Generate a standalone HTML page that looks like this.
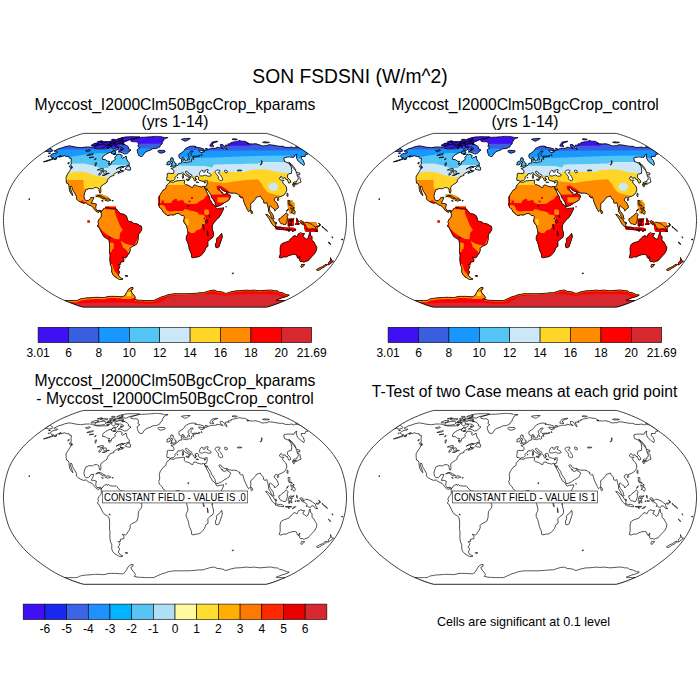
<!DOCTYPE html><html><head><meta charset="utf-8"><title>SON FSDSNI</title><style>html,body{margin:0;padding:0;background:#fff}svg{display:block}text{font-family:"Liberation Sans",sans-serif;fill:#000}</style></head><body>
<svg width="700" height="700" viewBox="0 0 700 700">
<rect width="700" height="700" fill="#fff"/>
<defs>
<path id="frame" d="M91.30 86.97 L94.48 86.09 L98.16 84.89 L102.23 83.42 L106.58 81.70 L111.10 79.78 L115.49 77.72 L119.53 75.57 L123.28 73.36 L126.86 71.08 L130.33 68.73 L133.71 66.33 L137.00 63.89 L140.18 61.40 L143.24 58.87 L146.16 56.31 L148.89 53.71 L151.39 51.09 L153.74 48.45 L156.00 45.79 L158.10 43.12 L160.00 40.44 L161.72 37.74 L163.29 35.05 L164.69 32.35 L165.90 29.66 L166.92 26.96 L167.76 24.26 L168.50 21.57 L169.20 18.87 L169.83 16.18 L170.35 13.48 L170.76 10.78 L171.08 8.09 L171.31 5.39 L171.47 2.70 L171.55 0.00 L171.47 -2.70 L171.31 -5.39 L171.08 -8.09 L170.76 -10.78 L170.35 -13.48 L169.83 -16.18 L169.20 -18.87 L168.50 -21.57 L167.76 -24.26 L166.92 -26.96 L165.90 -29.66 L164.69 -32.35 L163.29 -35.05 L161.72 -37.74 L160.00 -40.44 L158.10 -43.12 L156.00 -45.79 L153.74 -48.45 L151.39 -51.09 L148.89 -53.71 L146.16 -56.31 L143.24 -58.87 L140.18 -61.40 L137.00 -63.89 L133.71 -66.33 L130.33 -68.73 L126.86 -71.08 L123.28 -73.36 L119.53 -75.57 L115.49 -77.72 L111.10 -79.78 L106.58 -81.70 L102.23 -83.42 L98.16 -84.89 L94.48 -86.09 L91.30 -86.97 L-91.30 -86.97 L-94.48 -86.09 L-98.16 -84.89 L-102.23 -83.42 L-106.58 -81.70 L-111.10 -79.78 L-115.49 -77.72 L-119.53 -75.57 L-123.28 -73.36 L-126.86 -71.08 L-130.33 -68.73 L-133.71 -66.33 L-137.00 -63.89 L-140.18 -61.40 L-143.24 -58.87 L-146.16 -56.31 L-148.89 -53.71 L-151.39 -51.09 L-153.74 -48.45 L-156.00 -45.79 L-158.10 -43.12 L-160.00 -40.44 L-161.72 -37.74 L-163.29 -35.05 L-164.69 -32.35 L-165.90 -29.66 L-166.92 -26.96 L-167.76 -24.26 L-168.50 -21.57 L-169.20 -18.87 L-169.83 -16.18 L-170.35 -13.48 L-170.76 -10.78 L-171.08 -8.09 L-171.31 -5.39 L-171.47 -2.70 L-171.55 0.00 L-171.47 2.70 L-171.31 5.39 L-171.08 8.09 L-170.76 10.78 L-170.35 13.48 L-169.83 16.18 L-169.20 18.87 L-168.50 21.57 L-167.76 24.26 L-166.92 26.96 L-165.90 29.66 L-164.69 32.35 L-163.29 35.05 L-161.72 37.74 L-160.00 40.44 L-158.10 43.12 L-156.00 45.79 L-153.74 48.45 L-151.39 51.09 L-148.89 53.71 L-146.16 56.31 L-143.24 58.87 L-140.18 61.40 L-137.00 63.89 L-133.71 66.33 L-130.33 68.73 L-126.86 71.08 L-123.28 73.36 L-119.53 75.57 L-115.49 77.72 L-111.10 79.78 L-106.58 81.70 L-102.23 83.42 L-98.16 84.89 L-94.48 86.09 L-91.30 86.97Z"/>
<path id="land" d="M-120.9 -69.3 L-115.9 -71.8 L-112.9 -72.5 L-110.2 -73.6 L-107.9 -74.1 L-105.5 -74.5 L-104.3 -74.3 L-103.1 -74.1 L-102.0 -73.9 L-101.0 -73.7 L-99.9 -73.4 L-98.5 -73.2 L-97.0 -73.0 L-95.8 -72.9 L-94.5 -72.8 L-93.2 -72.7 L-91.1 -73.1 L-88.9 -73.4 L-87.3 -73.4 L-85.6 -73.4 L-84.3 -73.3 L-83.1 -73.2 L-82.1 -72.8 L-81.1 -72.4 L-80.1 -72.0 L-78.7 -71.7 L-77.3 -71.4 L-75.4 -71.4 L-73.6 -71.5 L-71.8 -71.5 L-70.1 -71.5 L-68.6 -71.6 L-67.1 -71.7 L-63.0 -75.0 L-63.4 -72.9 L-62.6 -72.2 L-61.7 -71.5 L-58.4 -73.2 L-56.5 -72.9 L-56.8 -71.5 L-58.4 -70.1 L-59.9 -70.1 L-61.4 -70.0 L-63.3 -68.3 L-65.8 -67.8 L-69.4 -65.8 L-71.9 -63.9 L-72.4 -62.6 L-72.4 -60.9 L-69.7 -60.7 L-68.6 -59.9 L-67.5 -59.2 L-65.4 -59.0 L-66.5 -56.8 L-66.0 -55.1 L-64.6 -55.3 L-63.7 -56.8 L-63.4 -58.6 L-60.8 -59.9 L-59.6 -61.4 L-60.3 -62.9 L-58.7 -64.4 L-58.1 -66.1 L-56.6 -66.1 L-55.1 -66.1 L-53.9 -65.5 L-52.8 -64.9 L-53.4 -62.9 L-52.6 -62.2 L-50.1 -63.4 L-48.9 -64.3 L-48.3 -61.4 L-47.5 -59.4 L-46.1 -57.8 L-45.5 -56.3 L-46.6 -55.3 L-49.6 -53.9 L-51.6 -53.9 L-53.7 -53.9 L-55.7 -53.0 L-58.9 -51.1 L-56.7 -52.5 L-53.7 -52.7 L-54.1 -51.6 L-54.8 -50.6 L-54.3 -49.5 L-51.9 -49.2 L-50.8 -50.0 L-52.0 -48.8 L-54.4 -48.0 L-56.9 -46.9 L-56.5 -47.9 L-54.9 -49.0 L-57.2 -48.5 L-59.3 -47.4 L-60.9 -46.3 L-61.4 -45.8 L-60.9 -44.9 L-62.8 -44.4 L-64.8 -43.8 L-65.2 -42.6 L-66.8 -41.5 L-67.7 -39.9 L-67.9 -38.3 L-69.3 -37.2 L-71.5 -35.9 L-73.7 -34.3 L-74.4 -32.4 L-74.0 -29.7 L-74.3 -27.5 L-75.1 -27.2 L-76.0 -29.7 L-76.0 -31.3 L-76.9 -32.4 L-78.6 -32.7 L-80.9 -32.7 L-82.1 -31.5 L-83.4 -31.6 L-86.1 -31.8 L-89.3 -30.2 L-90.3 -27.5 L-91.1 -24.3 L-90.4 -21.0 L-88.7 -19.6 L-86.3 -20.1 L-84.7 -21.6 L-84.4 -22.6 L-81.2 -23.2 L-82.0 -20.5 L-82.9 -18.9 L-83.7 -17.1 L-81.1 -17.0 L-78.6 -16.2 L-79.2 -13.5 L-79.2 -11.8 L-78.1 -9.9 L-75.9 -9.9 L-75.0 -10.2 L-73.6 -9.3 L-74.0 -7.9 L-75.5 -9.5 L-76.3 -7.9 L-78.7 -8.8 L-80.6 -10.8 L-81.3 -12.1 L-82.8 -14.0 L-85.0 -14.9 L-87.1 -15.9 L-89.0 -17.5 L-91.4 -17.0 L-94.1 -18.1 L-96.7 -19.6 L-98.8 -21.6 L-98.4 -23.7 L-99.8 -26.4 L-101.2 -28.6 L-102.8 -31.3 L-103.0 -33.6 L-104.4 -34.2 L-104.8 -32.4 L-103.7 -29.7 L-102.6 -26.4 L-102.0 -24.8 L-102.6 -25.0 L-104.1 -27.0 L-105.4 -29.4 L-105.9 -32.4 L-106.1 -35.0 L-106.9 -36.7 L-108.5 -37.3 L-108.8 -39.7 L-108.8 -41.5 L-109.0 -43.4 L-107.4 -46.3 L-105.1 -49.7 L-104.3 -51.9 L-102.4 -52.7 L-103.2 -54.0 L-104.3 -55.3 L-103.5 -57.3 L-104.1 -58.6 L-103.7 -60.4 L-103.7 -62.1 L-105.5 -62.2 L-106.0 -63.7 L-107.4 -63.8 L-108.8 -63.9 L-110.3 -64.7 L-113.0 -63.9 L-116.1 -63.2 L-113.8 -64.9 L-117.4 -63.4 L-120.2 -61.9 L-123.4 -60.7 L-126.6 -59.6 L-129.9 -58.7 L-131.6 -58.5 L-128.1 -59.7 L-124.4 -60.9 L-121.3 -62.6 L-123.1 -62.7 L-123.9 -63.4 L-124.6 -64.4 L-123.6 -65.8 L-121.0 -67.0 L-118.4 -67.3 L-117.2 -68.3 L-119.4 -68.3 L-120.3 -68.9Z M-44.5 -80.3 L-42.4 -81.0 L-40.3 -81.7 L-38.7 -82.1 L-37.1 -82.6 L-35.6 -83.0 L-34.4 -83.0 L-33.2 -83.1 L-32.0 -83.1 L-30.9 -83.2 L-29.7 -83.2 L-28.5 -83.3 L-27.2 -83.4 L-25.9 -83.5 L-24.6 -83.6 L-23.3 -83.7 L-22.1 -83.8 L-20.8 -83.9 L-19.6 -84.0 L-18.5 -84.0 L-17.4 -83.9 L-16.3 -83.9 L-15.2 -83.8 L-14.1 -83.7 L-12.9 -83.4 L-11.6 -83.1 L-10.4 -82.8 L-9.2 -82.8 L-8.1 -82.8 L-6.9 -82.8 L-8.2 -82.3 L-9.4 -81.8 L-10.7 -81.3 L-11.8 -79.4 L-12.8 -77.7 L-12.8 -76.4 L-14.7 -75.1 L-15.0 -73.6 L-16.6 -72.8 L-18.1 -72.0 L-19.5 -71.8 L-21.0 -71.7 L-22.4 -71.5 L-25.0 -70.0 L-27.3 -69.3 L-29.5 -68.3 L-31.2 -66.3 L-32.7 -64.1 L-33.9 -63.8 L-36.2 -64.8 L-37.0 -66.8 L-37.6 -68.7 L-37.9 -70.6 L-35.2 -72.7 L-37.1 -73.8 L-36.5 -75.6 L-36.8 -77.3 L-37.9 -78.6 L-39.2 -78.6 L-40.4 -78.6 L-41.7 -78.6 L-42.8 -78.8 L-43.9 -79.0 L-44.2 -80.0Z M-73.6 -9.3 L-72.1 -10.2 L-71.6 -11.5 L-70.6 -12.0 L-68.2 -13.2 L-67.8 -11.9 L-66.3 -12.9 L-64.9 -11.6 L-62.6 -11.4 L-60.7 -11.3 L-58.8 -11.5 L-57.9 -10.6 L-57.0 -9.2 L-55.1 -7.5 L-54.2 -6.5 L-51.4 -6.3 L-49.5 -5.2 L-48.6 -4.3 L-47.6 -1.9 L-47.7 0.0 L-45.7 1.1 L-42.9 1.6 L-41.9 2.9 L-39.5 3.1 L-37.1 3.8 L-35.2 5.2 L-33.5 5.9 L-33.1 8.1 L-33.5 10.2 L-35.1 12.4 L-36.4 14.0 L-36.8 16.7 L-36.8 19.2 L-37.4 21.6 L-38.2 23.7 L-40.0 24.8 L-41.8 25.7 L-43.6 26.6 L-44.9 28.0 L-44.8 30.5 L-46.1 33.4 L-47.4 34.8 L-48.3 36.7 L-49.4 37.6 L-51.3 37.3 L-52.7 36.7 L-51.1 39.0 L-51.1 41.2 L-52.9 41.6 L-54.7 42.0 L-54.5 44.0 L-56.8 44.2 L-55.1 46.0 L-55.8 48.2 L-57.2 49.7 L-55.3 51.1 L-56.0 53.2 L-56.7 54.8 L-55.6 56.2 L-55.3 57.1 L-52.0 58.6 L-53.2 59.2 L-55.6 59.1 L-57.8 57.8 L-59.9 56.6 L-62.1 54.2 L-63.3 51.6 L-63.2 49.5 L-63.3 46.9 L-64.5 44.7 L-64.9 42.0 L-65.2 40.1 L-65.1 37.7 L-65.0 34.5 L-65.6 31.3 L-65.3 27.5 L-65.5 23.7 L-66.0 20.0 L-67.7 18.5 L-70.7 16.7 L-72.1 14.9 L-73.4 12.4 L-75.0 9.2 L-76.1 7.0 L-77.3 6.3 L-77.3 4.6 L-76.2 3.6 L-77.0 2.4 L-77.0 1.1 L-76.2 -0.5 L-75.3 -1.6 L-74.3 -2.7 L-73.6 -4.3 L-73.7 -6.5 L-74.0 -7.9Z M-5.2 -38.6 L-1.8 -38.0 L0.9 -39.4 L2.7 -39.5 L4.5 -39.7 L6.2 -39.9 L8.0 -40.1 L9.3 -40.1 L9.8 -39.8 L9.4 -38.3 L9.2 -36.9 L10.4 -35.8 L11.8 -35.5 L13.9 -34.8 L16.0 -33.3 L17.8 -32.8 L18.2 -34.0 L19.0 -35.4 L20.9 -35.2 L22.7 -34.2 L24.6 -33.8 L26.5 -33.3 L28.2 -34.0 L29.4 -33.6 L29.7 -32.4 L30.9 -30.0 L33.0 -25.9 L34.5 -23.2 L35.0 -20.5 L36.2 -19.4 L37.2 -16.7 L38.9 -15.6 L40.7 -13.7 L41.0 -12.4 L42.2 -11.3 L44.5 -12.1 L46.4 -12.2 L48.5 -12.7 L48.6 -11.3 L47.3 -8.6 L45.7 -5.4 L43.8 -2.7 L41.9 -1.1 L40.0 1.1 L38.6 2.7 L37.6 4.9 L36.9 7.0 L37.5 8.6 L37.8 10.8 L38.4 11.5 L38.5 15.1 L37.7 17.3 L34.8 19.2 L32.8 21.4 L33.0 23.7 L33.0 25.9 L30.6 27.5 L30.3 29.1 L29.4 31.3 L27.8 33.2 L25.8 35.3 L23.5 36.5 L20.7 36.8 L18.0 37.5 L16.6 36.9 L16.5 34.5 L15.6 31.8 L14.3 29.1 L13.9 27.0 L13.5 24.8 L12.6 22.1 L11.1 18.9 L11.3 16.2 L13.0 12.9 L12.6 10.2 L11.7 6.5 L11.2 4.9 L9.1 2.4 L8.6 0.5 L9.1 -1.6 L9.2 -3.8 L8.1 -5.0 L6.7 -4.7 L5.2 -5.9 L4.1 -6.8 L1.9 -6.8 L0.0 -6.0 L-1.9 -5.2 L-3.8 -5.6 L-7.1 -4.7 L-8.6 -5.6 L-10.7 -7.3 L-12.3 -9.2 L-12.8 -10.6 L-14.2 -11.9 L-15.8 -13.4 L-15.8 -14.9 L-16.5 -15.9 L-15.5 -17.5 L-15.3 -20.5 L-15.9 -22.6 L-14.9 -25.6 L-13.7 -27.5 L-12.0 -30.0 L-9.2 -31.8 L-8.8 -34.0 L-7.7 -35.9 L-6.1 -36.9Z M-4.9 -38.8 L-5.8 -39.9 L-8.0 -39.9 L-8.3 -41.7 L-7.7 -44.2 L-7.9 -46.4 L-6.9 -47.1 L-4.3 -46.9 L-1.7 -46.8 L-1.1 -47.9 L-1.0 -49.5 L-2.1 -50.9 L-3.9 -51.6 L-3.8 -52.2 L-1.4 -52.4 L-1.2 -53.4 L0.2 -53.2 L1.3 -54.5 L2.9 -55.2 L3.7 -56.3 L4.0 -57.1 L5.6 -57.3 L7.0 -57.6 L6.6 -58.9 L6.4 -60.9 L8.2 -61.6 L8.3 -59.9 L7.8 -58.9 L8.8 -57.8 L10.0 -58.3 L11.4 -57.7 L13.2 -58.4 L14.8 -58.6 L15.8 -58.3 L16.7 -59.1 L16.4 -60.9 L17.1 -61.5 L19.0 -61.1 L18.1 -62.4 L18.0 -63.1 L20.6 -63.4 L22.9 -63.8 L21.6 -64.4 L19.0 -64.1 L17.1 -63.9 L16.1 -64.9 L15.9 -66.8 L17.8 -68.5 L18.2 -69.2 L15.8 -69.4 L15.5 -68.3 L13.3 -66.5 L13.0 -64.9 L14.3 -63.9 L12.8 -61.9 L12.8 -60.4 L11.3 -59.4 L10.3 -59.3 L9.8 -60.2 L8.7 -62.4 L8.0 -63.2 L6.6 -62.1 L5.4 -61.9 L4.2 -62.7 L3.8 -64.9 L4.1 -66.0 L6.3 -67.3 L8.0 -68.5 L9.3 -70.0 L10.2 -71.5 L11.8 -72.5 L13.4 -73.4 L15.6 -74.1 L17.6 -74.3 L19.3 -74.3 L21.2 -73.6 L19.9 -73.2 L21.3 -73.0 L22.8 -72.8 L24.9 -72.6 L26.8 -72.0 L28.8 -71.4 L29.2 -70.1 L27.2 -69.8 L25.7 -70.1 L24.2 -70.3 L23.5 -70.1 L25.2 -68.7 L25.5 -68.1 L27.5 -67.7 L27.6 -68.5 L29.4 -68.4 L28.7 -69.5 L29.9 -70.1 L31.6 -70.1 L30.3 -72.0 L32.4 -71.7 L32.7 -70.4 L33.8 -71.3 L35.3 -71.7 L36.9 -72.2 L38.3 -72.1 L39.7 -72.1 L41.7 -72.3 L41.9 -73.2 L44.5 -72.7 L46.5 -72.3 L48.2 -71.8 L45.9 -73.4 L45.3 -74.7 L45.5 -76.0 L47.6 -75.8 L49.2 -74.3 L50.2 -72.0 L52.1 -70.6 L51.6 -72.0 L50.1 -75.1 L52.0 -75.3 L54.1 -75.1 L52.8 -76.4 L54.4 -76.6 L56.1 -76.7 L55.8 -77.7 L57.0 -78.0 L58.2 -78.3 L59.4 -78.6 L60.5 -78.7 L61.6 -78.8 L62.7 -79.0 L63.4 -79.5 L64.0 -79.9 L66.8 -79.2 L68.5 -79.1 L70.2 -79.0 L73.9 -76.9 L71.8 -76.7 L73.2 -76.6 L74.6 -76.6 L75.9 -76.5 L77.3 -76.4 L78.6 -76.5 L79.8 -76.6 L81.0 -76.6 L84.3 -75.6 L87.6 -74.3 L89.4 -74.7 L90.8 -74.7 L92.2 -74.6 L93.0 -75.6 L94.4 -75.5 L95.8 -75.5 L97.2 -75.4 L99.0 -75.0 L100.9 -74.7 L103.7 -74.2 L105.1 -74.1 L106.5 -74.1 L107.9 -74.1 L110.1 -73.0 L111.9 -73.0 L113.7 -72.9 L115.1 -73.1 L116.4 -73.4 L118.5 -72.5 L119.7 -72.8 L120.8 -73.2 L122.8 -72.8 L124.9 -72.4 L130.3 -68.7 L133.0 -66.3 L131.8 -66.1 L130.6 -65.8 L130.4 -64.9 L130.1 -63.9 L128.2 -63.9 L126.3 -63.9 L126.4 -61.9 L128.2 -59.9 L129.4 -56.8 L128.9 -54.8 L126.2 -56.8 L122.7 -59.9 L121.9 -61.7 L121.2 -64.4 L121.5 -65.4 L121.8 -66.3 L120.9 -65.8 L120.0 -65.4 L119.5 -64.2 L118.9 -63.1 L116.8 -63.2 L114.7 -63.4 L112.9 -63.3 L111.1 -63.2 L110.0 -62.8 L108.8 -62.4 L109.4 -58.9 L113.8 -57.1 L116.2 -53.7 L116.8 -50.0 L116.3 -46.9 L113.9 -46.5 L112.7 -45.8 L112.4 -43.1 L115.3 -39.9 L115.8 -38.0 L113.9 -37.2 L112.7 -39.6 L112.5 -40.8 L110.9 -41.0 L110.0 -42.7 L107.7 -42.0 L106.0 -44.1 L104.9 -42.3 L104.1 -41.8 L105.9 -40.2 L109.0 -40.1 L107.5 -38.6 L108.1 -37.0 L110.7 -34.5 L111.6 -32.4 L111.8 -30.2 L110.7 -27.5 L108.8 -25.3 L106.3 -24.0 L103.7 -23.1 L102.9 -21.9 L101.8 -23.3 L99.8 -22.1 L99.1 -20.3 L101.8 -17.3 L103.4 -14.0 L103.3 -12.4 L101.5 -11.2 L99.7 -9.4 L99.4 -11.1 L97.1 -12.9 L95.4 -14.5 L94.6 -14.2 L94.2 -11.3 L95.3 -9.0 L96.8 -7.3 L98.3 -4.9 L98.6 -2.7 L99.3 -1.5 L98.5 -1.5 L96.5 -3.0 L95.4 -5.9 L93.4 -9.0 L93.6 -11.3 L92.6 -14.6 L91.9 -17.8 L90.0 -17.0 L88.8 -17.5 L88.4 -20.2 L86.3 -22.6 L85.3 -24.4 L83.1 -23.5 L81.3 -23.0 L80.8 -21.6 L79.5 -20.5 L77.4 -17.9 L75.6 -16.7 L75.8 -14.2 L75.7 -11.1 L75.0 -10.0 L74.1 -9.0 L73.6 -8.7 L72.3 -10.8 L70.8 -14.0 L69.3 -17.3 L68.3 -20.5 L67.9 -22.6 L67.4 -22.9 L66.4 -22.4 L64.3 -24.0 L65.2 -24.8 L63.2 -25.6 L62.2 -26.7 L59.3 -27.3 L57.0 -27.2 L55.1 -27.4 L53.2 -27.7 L52.1 -29.1 L49.9 -28.8 L47.4 -30.1 L45.7 -32.4 L44.6 -32.7 L44.0 -31.8 L44.8 -30.2 L46.2 -28.8 L46.8 -27.4 L47.5 -28.0 L47.9 -26.4 L49.2 -26.1 L50.6 -26.2 L52.0 -28.3 L52.5 -26.4 L54.6 -25.5 L55.7 -24.2 L54.7 -22.0 L54.1 -20.5 L52.2 -19.1 L49.3 -17.6 L46.3 -15.4 L43.0 -14.0 L41.2 -13.7 L40.4 -16.0 L40.0 -17.9 L38.4 -20.5 L36.6 -23.0 L35.8 -25.6 L34.5 -27.5 L32.5 -30.2 L32.0 -31.8 L31.6 -30.2 L30.9 -30.5 L29.8 -32.4 L29.4 -33.6 L31.2 -33.8 L31.7 -35.0 L32.2 -37.2 L32.2 -38.8 L32.3 -39.6 L30.8 -39.7 L29.1 -38.9 L27.3 -39.1 L25.9 -39.6 L24.5 -39.9 L23.4 -41.5 L23.8 -42.6 L23.0 -43.1 L22.7 -44.0 L21.0 -44.0 L20.6 -43.3 L20.0 -43.5 L20.1 -42.4 L20.6 -41.2 L21.3 -40.8 L20.4 -40.4 L20.7 -39.4 L20.0 -39.4 L19.3 -39.8 L18.9 -40.8 L18.8 -41.4 L17.8 -42.7 L17.0 -43.7 L17.0 -44.9 L16.0 -45.8 L14.7 -46.5 L13.1 -47.7 L12.4 -48.7 L11.7 -49.1 L10.6 -48.8 L10.6 -47.7 L11.7 -46.9 L12.3 -45.7 L13.9 -45.2 L13.9 -44.7 L16.1 -43.4 L16.2 -43.0 L14.9 -43.5 L14.6 -42.9 L15.1 -42.0 L14.3 -40.9 L13.9 -41.2 L14.1 -42.0 L13.7 -43.2 L12.7 -43.9 L10.9 -44.7 L9.5 -45.8 L8.9 -46.9 L7.7 -47.7 L6.5 -47.2 L5.2 -46.4 L3.9 -46.8 L2.7 -46.3 L2.8 -45.3 L1.9 -44.5 L0.7 -44.0 L-0.2 -42.6 L0.2 -41.8 L-0.6 -40.7 L-1.8 -39.7 L-3.9 -39.6Z M-124.9 -72.4 L-124.1 -71.7 L-123.3 -71.1 L-122.6 -70.4 L-121.8 -69.7 L-125.2 -68.3 L-127.0 -68.5 L-128.2 -69.2 L-130.3 -68.7Z M135.1 11.5 L135.6 15.1 L137.1 16.2 L137.0 20.0 L139.0 21.6 L140.3 24.3 L141.9 27.0 L141.3 30.2 L139.5 33.4 L136.9 36.1 L133.9 39.4 L133.2 40.4 L130.8 41.0 L128.9 42.0 L128.0 41.2 L125.3 41.3 L124.5 39.9 L125.0 38.5 L123.7 38.3 L125.0 35.6 L123.5 37.7 L122.3 37.5 L122.0 36.1 L121.3 34.5 L119.3 34.0 L116.3 34.5 L113.2 35.6 L111.4 36.7 L108.2 36.7 L106.0 37.7 L104.1 37.0 L105.1 34.5 L105.2 32.4 L105.1 29.7 L105.1 27.5 L106.0 24.3 L106.8 23.5 L109.4 22.2 L111.4 21.6 L113.9 20.8 L115.0 18.9 L116.2 18.3 L117.9 16.2 L120.0 15.1 L121.2 16.2 L122.2 16.2 L123.0 14.0 L124.0 13.2 L125.5 12.4 L127.8 13.2 L129.7 13.2 L128.6 14.6 L127.8 16.2 L129.6 17.3 L131.1 18.9 L132.6 18.3 L133.8 15.6 L134.2 13.5Z M-110.2 80.2 L-109.0 80.2 L-107.7 80.2 L-106.5 80.2 L-105.3 80.2 L-104.1 80.2 L-102.8 80.2 L-101.6 80.2 L-100.4 80.2 L-99.2 80.2 L-97.9 80.2 L-97.4 79.9 L-96.8 79.5 L-96.1 79.2 L-95.5 78.9 L-94.8 78.6 L-93.8 78.4 L-92.8 78.2 L-91.8 78.1 L-90.8 77.9 L-89.8 77.7 L-88.7 77.6 L-87.5 77.5 L-86.3 77.5 L-85.2 77.4 L-84.0 77.3 L-82.8 77.2 L-81.7 77.1 L-80.5 77.0 L-79.3 77.0 L-78.1 76.9 L-76.7 77.0 L-75.3 77.0 L-73.9 77.1 L-72.5 77.2 L-71.1 77.3 L-70.1 77.0 L-69.1 76.8 L-68.1 76.5 L-67.0 76.3 L-66.0 76.0 L-64.7 76.0 L-63.3 76.0 L-62.0 76.0 L-60.7 76.0 L-59.4 76.0 L-58.0 76.1 L-56.6 76.2 L-55.2 76.3 L-53.8 76.4 L-52.4 76.4 L-51.3 75.8 L-50.1 75.1 L-49.4 73.8 L-48.5 72.5 L-47.5 70.6 L-46.3 68.7 L-45.2 68.0 L-44.1 67.3 L-42.0 67.1 L-42.0 68.7 L-43.1 69.4 L-44.2 70.1 L-43.0 72.5 L-40.8 75.1 L-39.4 77.3 L-40.1 78.1 L-40.8 79.0 L-38.9 79.4 L-37.0 79.8 L-35.7 79.9 L-34.5 79.9 L-33.2 80.0 L-31.9 80.1 L-30.6 80.2 L-29.4 80.2 L-28.2 80.2 L-26.9 80.2 L-25.7 80.2 L-24.5 80.2 L-23.0 80.2 L-21.4 80.2 L-20.1 79.6 L-18.8 79.0 L-17.4 78.3 L-16.0 77.7 L-14.6 77.1 L-13.1 76.4 L-11.5 76.0 L-10.0 75.6 L-8.4 74.9 L-6.8 74.3 L-5.4 74.1 L-4.1 73.9 L-2.7 73.7 L-1.4 73.5 L0.0 73.4 L1.4 73.4 L2.7 73.4 L4.1 73.4 L5.5 73.4 L6.8 73.4 L8.2 73.4 L9.6 73.4 L11.0 73.4 L12.3 73.4 L13.7 73.4 L15.1 73.3 L16.5 73.2 L17.9 73.1 L19.3 73.0 L20.7 72.9 L22.5 72.7 L24.3 72.5 L26.0 72.5 L27.7 72.5 L29.7 71.9 L31.6 71.3 L33.6 70.7 L35.6 70.1 L37.5 69.9 L39.4 69.7 L40.9 70.4 L42.3 71.1 L44.0 71.2 L45.7 71.4 L47.2 71.7 L48.8 72.0 L49.6 72.9 L51.7 72.9 L54.4 72.0 L56.1 71.5 L58.1 71.1 L60.2 70.6 L62.1 70.5 L63.9 70.4 L65.8 70.3 L67.7 70.1 L69.7 69.9 L71.6 69.7 L73.2 69.9 L74.8 70.1 L76.8 69.9 L78.8 69.7 L80.4 69.9 L81.9 70.1 L83.6 70.3 L85.2 70.4 L87.1 70.3 L89.1 70.1 L91.1 69.9 L93.1 69.7 L94.9 69.7 L96.7 69.7 L98.1 70.1 L99.4 70.4 L101.1 70.5 L102.8 70.6 L103.7 71.3 L104.5 72.0 L106.0 72.2 L107.4 72.5 L108.5 72.9 L109.6 73.4 L110.6 73.8 L111.7 74.3 L113.0 74.5 L114.3 74.7 L112.1 76.0 L109.3 76.9 L106.5 77.7 L101.2 79.8 L102.2 80.2 L103.6 80.2 L104.9 80.2 L106.2 80.2 L107.5 80.2 L108.9 80.2 L110.2 80.2 L106.6 81.7 L103.1 83.1 L99.7 84.3 L96.6 85.4 L93.8 86.3 L91.3 87.0 L90.3 87.0 L89.3 87.0 L88.3 87.0 L87.2 87.0 L86.2 87.0 L85.2 87.0 L84.2 87.0 L83.2 87.0 L82.2 87.0 L81.2 87.0 L80.1 87.0 L79.1 87.0 L78.1 87.0 L77.1 87.0 L76.1 87.0 L75.1 87.0 L74.1 87.0 L73.0 87.0 L72.0 87.0 L71.0 87.0 L70.0 87.0 L69.0 87.0 L68.0 87.0 L67.0 87.0 L65.9 87.0 L64.9 87.0 L63.9 87.0 L62.9 87.0 L61.9 87.0 L60.9 87.0 L59.9 87.0 L58.8 87.0 L57.8 87.0 L56.8 87.0 L55.8 87.0 L54.8 87.0 L53.8 87.0 L52.8 87.0 L51.7 87.0 L50.7 87.0 L49.7 87.0 L48.7 87.0 L47.7 87.0 L46.7 87.0 L45.6 87.0 L44.6 87.0 L43.6 87.0 L42.6 87.0 L41.6 87.0 L40.6 87.0 L39.6 87.0 L38.5 87.0 L37.5 87.0 L36.5 87.0 L35.5 87.0 L34.5 87.0 L33.5 87.0 L32.5 87.0 L31.4 87.0 L30.4 87.0 L29.4 87.0 L28.4 87.0 L27.4 87.0 L26.4 87.0 L25.4 87.0 L24.3 87.0 L23.3 87.0 L22.3 87.0 L21.3 87.0 L20.3 87.0 L19.3 87.0 L18.3 87.0 L17.2 87.0 L16.2 87.0 L15.2 87.0 L14.2 87.0 L13.2 87.0 L12.2 87.0 L11.2 87.0 L10.1 87.0 L9.1 87.0 L8.1 87.0 L7.1 87.0 L6.1 87.0 L5.1 87.0 L4.1 87.0 L3.0 87.0 L2.0 87.0 L1.0 87.0 L0.0 87.0 L-1.0 87.0 L-2.0 87.0 L-3.0 87.0 L-4.1 87.0 L-5.1 87.0 L-6.1 87.0 L-7.1 87.0 L-8.1 87.0 L-9.1 87.0 L-10.1 87.0 L-11.2 87.0 L-12.2 87.0 L-13.2 87.0 L-14.2 87.0 L-15.2 87.0 L-16.2 87.0 L-17.2 87.0 L-18.3 87.0 L-19.3 87.0 L-20.3 87.0 L-21.3 87.0 L-22.3 87.0 L-23.3 87.0 L-24.3 87.0 L-25.4 87.0 L-26.4 87.0 L-27.4 87.0 L-28.4 87.0 L-29.4 87.0 L-30.4 87.0 L-31.4 87.0 L-32.5 87.0 L-33.5 87.0 L-34.5 87.0 L-35.5 87.0 L-36.5 87.0 L-37.5 87.0 L-38.5 87.0 L-39.6 87.0 L-40.6 87.0 L-41.6 87.0 L-42.6 87.0 L-43.6 87.0 L-44.6 87.0 L-45.6 87.0 L-46.7 87.0 L-47.7 87.0 L-48.7 87.0 L-49.7 87.0 L-50.7 87.0 L-51.7 87.0 L-52.8 87.0 L-53.8 87.0 L-54.8 87.0 L-55.8 87.0 L-56.8 87.0 L-57.8 87.0 L-58.8 87.0 L-59.9 87.0 L-60.9 87.0 L-61.9 87.0 L-62.9 87.0 L-63.9 87.0 L-64.9 87.0 L-65.9 87.0 L-67.0 87.0 L-68.0 87.0 L-69.0 87.0 L-70.0 87.0 L-71.0 87.0 L-72.0 87.0 L-73.0 87.0 L-74.1 87.0 L-75.1 87.0 L-76.1 87.0 L-77.1 87.0 L-78.1 87.0 L-79.1 87.0 L-80.1 87.0 L-81.2 87.0 L-82.2 87.0 L-83.2 87.0 L-84.2 87.0 L-85.2 87.0 L-86.2 87.0 L-87.2 87.0 L-88.3 87.0 L-89.3 87.0 L-90.3 87.0 L-91.3 87.0 L-93.8 86.3 L-96.6 85.4 L-99.7 84.3 L-103.1 83.1 L-106.6 81.7Z M-52.3 -76.6 L-51.3 -76.2 L-50.3 -75.8 L-49.1 -75.2 L-47.9 -74.5 L-46.6 -73.4 L-46.6 -71.5 L-45.3 -71.0 L-44.0 -70.4 L-46.0 -68.7 L-48.0 -66.8 L-50.5 -66.3 L-52.2 -67.3 L-54.2 -68.3 L-56.8 -68.3 L-54.4 -69.7 L-51.4 -71.1 L-51.6 -72.0 L-53.0 -72.9 L-54.1 -73.4 L-55.5 -73.4 L-56.8 -73.4 L-58.7 -73.6 L-60.2 -74.3 L-59.4 -75.6 L-56.1 -76.7 L-54.2 -76.6Z M-78.7 -74.7 L-76.7 -75.3 L-74.7 -75.8 L-72.9 -76.0 L-71.1 -76.2 L-69.5 -75.7 L-69.0 -74.3 L-70.6 -72.9 L-73.6 -72.3 L-75.1 -72.2 L-76.5 -72.2 L-79.0 -72.1 L-80.3 -72.9 L-80.0 -73.8Z M-83.9 -75.1 L-80.3 -76.7 L-78.7 -76.9 L-77.2 -77.0 L-76.0 -76.4 L-78.9 -75.1 L-81.6 -74.5 L-83.4 -74.7Z M-56.6 -78.8 L-54.5 -79.3 L-52.5 -79.8 L-51.2 -79.6 L-50.0 -79.4 L-48.7 -79.2 L-46.1 -80.6 L-44.6 -81.0 L-43.0 -81.3 L-41.5 -81.7 L-40.0 -82.0 L-38.6 -82.3 L-36.9 -82.9 L-35.2 -83.4 L-36.3 -83.5 L-37.3 -83.6 L-38.4 -83.7 L-39.4 -83.7 L-40.6 -83.7 L-41.7 -83.7 L-42.8 -83.7 L-43.9 -83.7 L-45.1 -83.7 L-46.3 -83.6 L-47.6 -83.5 L-48.9 -83.4 L-50.1 -83.3 L-51.8 -82.9 L-53.4 -82.6 L-52.8 -82.1 L-52.1 -81.7 L-52.2 -80.6 L-54.9 -79.8Z M-61.1 -78.1 L-60.2 -77.8 L-59.3 -77.5 L-57.8 -77.4 L-56.4 -77.3 L-54.9 -77.3 L-53.2 -77.4 L-51.5 -77.5 L-51.8 -78.6 L-53.0 -78.6 L-54.2 -78.7 L-55.4 -78.8 L-56.8 -78.9 L-58.3 -79.0Z M-74.7 -78.0 L-73.6 -77.6 L-72.4 -77.3 L-70.9 -77.4 L-69.5 -77.6 L-68.0 -77.7 L-67.0 -78.6 L-68.2 -78.6 L-69.4 -78.7 L-70.6 -78.7 L-71.8 -78.8 L-73.0 -78.8Z M-58.3 -80.6 L-57.1 -80.5 L-56.0 -80.5 L-54.8 -80.4 L-51.9 -81.3 L-52.4 -82.4 L-54.3 -82.1 L-56.3 -81.7Z M-68.6 -74.7 L-66.9 -74.7 L-65.2 -74.7 L-63.5 -75.1 L-61.8 -75.6 L-59.4 -76.7 L-60.9 -76.8 L-62.5 -76.9 L-64.5 -76.4 L-66.6 -76.0Z M-64.0 -67.3 L-62.9 -66.7 L-61.8 -66.1 L-59.0 -67.6 L-59.8 -69.2 L-61.7 -69.5Z M-49.8 -51.3 L-47.3 -50.4 L-44.8 -50.2 L-44.3 -51.3 L-44.5 -53.0 L-46.1 -53.7 L-45.4 -55.3 L-47.1 -54.2 L-48.8 -52.4Z M-105.6 -54.4 L-103.6 -54.0 L-103.2 -52.1 L-104.3 -52.4 L-105.5 -53.7Z M-79.3 -23.5 L-77.3 -24.8 L-74.9 -24.9 L-72.3 -23.5 L-70.1 -22.3 L-69.4 -21.7 L-72.6 -21.5 L-72.9 -22.3 L-74.7 -23.4 L-76.4 -24.2 L-77.9 -23.8Z M-69.8 -19.8 L-68.2 -21.5 L-65.5 -21.4 L-64.2 -20.1 L-66.2 -19.6 L-67.4 -19.1 L-68.1 -19.7Z M-73.5 -19.7 L-71.7 -19.4 L-72.5 -19.2Z M-63.1 -19.8 L-61.7 -19.7 L-62.5 -19.4Z M-17.3 -69.2 L-15.7 -70.1 L-14.3 -70.0 L-12.9 -69.9 L-10.5 -69.9 L-9.8 -68.7 L-11.0 -68.0 L-13.6 -67.2 L-15.8 -67.6 L-16.4 -68.4Z M-4.4 -53.8 L-2.9 -54.1 L0.0 -54.5 L1.1 -55.0 L0.7 -55.4 L1.4 -56.5 L0.2 -56.8 L-0.2 -58.1 L-1.3 -59.2 L-1.8 -59.9 L-1.6 -61.5 L-2.7 -61.6 L-2.5 -62.5 L-3.9 -62.5 L-4.5 -61.2 L-4.3 -59.9 L-3.8 -58.8 L-2.6 -58.7 L-2.4 -57.2 L-3.6 -57.1 L-3.4 -56.1 L-4.2 -55.6 L-2.7 -55.2 L-3.7 -54.8Z M-8.2 -55.5 L-6.5 -55.5 L-5.1 -56.1 L-4.9 -57.3 L-4.5 -58.4 L-5.2 -59.1 L-6.5 -59.1 L-6.9 -58.2 L-8.0 -58.1 L-7.7 -57.0 L-8.4 -56.0Z M6.6 -81.3 L7.7 -81.4 L8.9 -81.6 L10.4 -81.7 L11.8 -81.9 L13.0 -81.9 L14.2 -81.9 L15.3 -81.8 L14.4 -81.2 L13.4 -80.6 L12.3 -80.0 L11.2 -79.4 L9.4 -79.2 L8.6 -80.0 L6.7 -80.7Z M34.8 -74.3 L35.2 -75.6 L36.1 -76.9 L36.9 -78.1 L38.3 -78.5 L39.6 -78.8 L41.2 -79.0 L42.8 -79.2 L41.9 -78.3 L40.5 -78.0 L39.1 -77.7 L37.9 -76.7 L37.3 -75.4 L39.0 -74.1 L36.7 -74.0Z M57.0 -81.1 L57.8 -81.4 L58.6 -81.7 L60.5 -81.4 L62.3 -81.2 L61.6 -80.3 L60.3 -80.5 L58.9 -80.6Z M87.5 -78.0 L88.6 -78.3 L89.7 -78.6 L91.3 -78.4 L92.9 -78.2 L94.5 -78.0 L93.6 -77.8 L92.7 -77.5 L91.1 -77.5 L89.6 -77.5Z M120.6 -74.3 L121.1 -74.7 L122.0 -74.2Z M113.7 -58.2 L116.3 -56.3 L118.7 -53.7 L120.7 -50.6 L120.8 -49.5 L119.0 -51.6 L117.0 -54.2 L115.1 -56.3Z M122.2 -44.7 L121.9 -46.5 L120.8 -48.9 L123.0 -47.6 L125.0 -47.2 L124.6 -45.5 L122.7 -45.7Z M123.3 -44.5 L125.0 -42.6 L125.3 -40.4 L126.1 -38.3 L124.9 -37.7 L123.3 -37.3 L122.4 -36.2 L120.3 -36.9 L118.2 -36.6 L117.9 -37.3 L119.2 -38.3 L121.8 -38.6 L121.9 -40.1 L123.3 -41.0 L123.1 -42.9 L122.5 -44.2Z M117.5 -36.1 L119.1 -36.1 L119.4 -34.0 L118.7 -33.6 L117.6 -35.4Z M119.6 -36.3 L121.0 -36.9 L121.3 -36.0 L120.3 -35.4Z M112.2 -27.2 L113.1 -26.7 L112.8 -23.7 L111.9 -24.8Z M101.9 -20.7 L103.3 -21.6 L104.0 -21.1 L103.0 -19.7Z M75.7 -10.5 L77.1 -9.2 L77.8 -7.5 L76.7 -6.5 L76.0 -7.3Z M113.1 -20.0 L114.7 -19.8 L114.9 -17.8 L114.7 -15.6 L117.0 -14.9 L117.3 -13.7 L115.8 -14.7 L114.1 -14.9 L113.4 -16.0 L113.3 -17.6Z M116.0 -7.5 L117.3 -9.3 L118.9 -10.4 L120.1 -9.2 L120.0 -7.0 L119.4 -6.1 L117.9 -7.0 L117.1 -8.1Z M115.5 -12.7 L116.9 -11.9 L118.0 -12.2 L118.8 -13.4 L118.8 -11.1 L117.6 -10.8 L116.8 -9.9 L116.2 -10.8Z M111.4 -9.2 L113.3 -11.6 L113.2 -10.8 L111.9 -9.0Z M90.7 -6.0 L92.8 -5.6 L95.2 -3.2 L98.2 -0.5 L99.6 2.2 L100.9 3.6 L100.7 6.3 L99.4 6.1 L97.4 4.3 L95.8 1.6 L94.1 -1.6 L92.4 -3.8Z M100.1 7.3 L101.5 6.5 L103.2 7.1 L105.4 6.9 L107.2 7.4 L108.8 8.4 L108.6 9.4 L105.4 9.0 L102.6 8.4Z M103.9 -1.6 L105.3 -1.9 L106.2 -3.0 L108.1 -4.6 L109.9 -5.9 L111.2 -7.5 L113.2 -5.6 L112.2 -3.8 L112.4 -1.3 L112.0 0.9 L110.6 4.1 L109.0 4.3 L107.6 3.5 L106.2 3.5 L104.8 1.6 L103.9 0.0Z M114.2 -0.9 L115.3 -1.4 L117.2 -1.1 L119.1 -1.7 L118.2 -0.4 L115.8 -0.5 L114.6 0.9 L115.8 1.0 L117.5 1.0 L116.0 2.2 L116.7 3.8 L117.1 5.4 L115.9 5.2 L115.3 3.0 L114.7 3.2 L114.6 5.9 L113.7 5.9 L113.8 3.8 L113.2 2.9 L113.9 0.5Z M124.8 0.9 L126.3 0.4 L127.7 0.9 L128.6 3.6 L130.5 1.9 L132.0 1.9 L134.3 2.8 L137.1 4.1 L138.7 5.7 L140.3 6.5 L140.5 8.1 L142.3 11.0 L142.7 11.4 L140.4 10.9 L138.7 8.8 L136.8 8.3 L135.7 9.9 L133.9 9.8 L132.5 8.7 L131.1 9.0 L132.0 7.3 L130.8 5.6 L129.0 4.7 L127.1 4.1 L126.5 3.0 L127.6 2.7 L125.9 2.4 L124.8 1.5Z M117.1 11.1 L118.7 9.7 L120.8 9.1 L120.1 10.0 L118.1 11.0Z M110.2 9.1 L113.0 9.0 L116.6 9.0 L116.6 9.5 L113.5 9.5 L110.8 9.7Z M121.5 -2.2 L122.4 -1.6 L122.0 0.0 L122.5 0.9 L121.7 0.3Z M121.9 3.2 L124.6 3.5 L123.8 3.9 L122.2 3.8Z M141.3 5.9 L143.2 5.7 L144.9 4.5 L144.6 5.7 L143.1 6.7 L141.7 6.7Z M46.7 12.9 L47.4 16.7 L46.8 18.3 L45.7 21.6 L44.9 24.0 L44.1 26.4 L42.1 27.5 L40.8 27.0 L40.4 23.7 L41.6 21.6 L41.4 18.9 L42.4 17.3 L44.3 16.2 L45.4 14.6Z M126.6 44.0 L127.9 44.3 L129.7 44.1 L127.9 46.3 L126.6 47.0 L125.8 46.6 L126.2 45.3Z M155.5 37.2 L156.1 38.8 L156.8 39.7 L157.1 40.8 L158.5 40.7 L156.5 42.4 L154.2 44.2 L152.5 44.7 L153.5 43.1 L153.2 42.4 L154.9 41.0 L155.6 39.4Z M151.3 43.7 L152.0 44.5 L148.9 46.9 L146.7 47.9 L144.8 49.5 L142.5 50.1 L141.4 49.5 L144.1 47.7 L147.3 46.3 L149.3 44.9Z M153.5 21.7 L154.7 22.6 L155.7 24.2 L154.9 23.7 L153.7 22.6Z M7.3 -44.2 L8.5 -44.2 L8.5 -42.3 L7.5 -42.0Z M7.5 -45.9 L8.2 -46.3 L8.3 -44.7 L7.7 -44.8Z M11.1 -41.0 L13.7 -41.2 L13.6 -39.6 L11.3 -40.5Z M21.2 -38.4 L23.5 -38.1 L23.4 -37.7 L21.2 -38.0Z M29.0 -37.7 L30.9 -38.4 L30.4 -37.6 L29.4 -37.4Z M-146.0 -21.8 L-145.1 -21.4 L-145.9 -20.5 L-146.1 -21.1Z M-49.9 55.3 L-47.5 55.2 L-47.6 56.0 L-49.2 56.0Z M50.5 -13.6 L51.6 -13.6 L51.0 -13.3Z M57.3 52.7 L58.7 52.8 L58.0 53.4 L57.1 53.3Z M166.7 18.9 L167.9 18.9 L167.5 19.6 L166.6 19.5Z M148.3 7.5 L151.0 9.2 L152.7 10.8 L152.2 11.0 L150.1 9.2Z M157.1 16.2 L157.6 16.7 L157.7 17.8 L157.3 17.3Z M-66.8 -76.4 L-64.4 -76.9 L-64.4 -75.6 L-66.1 -74.5 L-67.5 -75.1Z M-68.2 -72.9 L-66.0 -73.1 L-66.5 -72.1 L-68.1 -72.2Z M-65.2 -79.0 L-63.6 -79.0 L-62.0 -79.0 L-62.9 -77.7 L-64.1 -77.8 L-65.3 -77.9Z M-61.5 -78.1 L-59.7 -78.0 L-60.3 -77.5 L-61.8 -77.5Z M-77.7 -78.6 L-75.7 -79.1 L-73.7 -79.6 L-72.4 -79.2 L-75.3 -78.5 L-76.5 -78.5Z M-63.2 -81.0 L-61.7 -81.0 L-60.2 -81.0 L-59.4 -80.2 L-61.5 -79.9 L-62.5 -80.1 L-63.5 -80.3Z M-53.1 -76.4 L-51.0 -76.6 L-50.3 -75.8 L-52.5 -75.6Z M-54.4 -71.4 L-52.7 -71.4 L-53.0 -70.8 L-54.5 -70.7Z M-61.5 -66.6 L-59.2 -66.6 L-59.7 -65.8 L-61.5 -65.9Z M-66.2 -57.0 L-64.6 -57.0 L-65.1 -56.5 L-66.3 -56.6Z M-53.4 -53.6 L-51.3 -52.9 L-52.4 -52.9Z M-54.4 -50.2 L-52.5 -49.9 L-53.1 -49.5 L-54.3 -49.7Z M-120.5 -61.2 L-118.0 -61.9 L-119.3 -60.9 L-120.7 -60.7Z M-127.0 -64.2 L-125.6 -64.3 L-126.6 -63.7Z M-126.1 -67.3 L-124.4 -67.2 L-124.9 -66.8 L-126.3 -66.9Z M-106.7 -57.8 L-105.7 -57.8 L-106.5 -56.3 L-107.2 -56.6Z M37.3 6.3 L37.7 6.5 L37.5 7.0Z M100.5 1.8 L101.5 2.2 L101.6 3.2 L100.8 2.7Z M120.0 3.5 L121.1 3.6 L120.9 4.1 L120.1 4.0Z M112.9 10.1 L114.6 10.4 L114.3 11.0 L113.1 10.6Z M143.6 2.8 L145.2 3.9 L145.6 5.0 L144.9 4.3 L143.6 3.1Z M147.1 5.9 L148.3 6.9 L148.0 7.4 L147.2 6.7Z M14.1 -61.8 L14.8 -61.7 L14.5 -60.9 L14.1 -61.1Z M2.1 -42.7 L3.0 -42.9 L2.8 -42.4 L2.3 -42.4Z M20.5 -41.9 L21.7 -41.2 L21.5 -41.0 L20.4 -41.6Z"/>
<path id="water" d="M24.3 -45.8 L24.7 -47.4 L25.3 -48.7 L25.5 -49.3 L26.6 -50.1 L28.2 -49.7 L27.8 -49.3 L28.7 -47.9 L30.3 -48.8 L29.8 -49.9 L32.0 -50.8 L33.1 -50.7 L32.9 -49.5 L32.1 -48.1 L34.0 -47.1 L35.9 -45.9 L36.2 -44.8 L35.0 -44.2 L32.8 -44.2 L30.4 -45.3 L27.5 -44.4 L25.3 -44.4Z M40.0 -49.0 L41.5 -50.0 L43.1 -50.4 L44.9 -50.0 L44.8 -48.5 L43.7 -47.9 L43.1 -47.7 L44.5 -46.3 L45.6 -45.3 L46.4 -43.7 L47.5 -42.0 L47.6 -40.2 L46.4 -39.6 L44.5 -40.2 L43.4 -41.5 L43.4 -43.7 L42.1 -45.3 L40.9 -46.9 L40.1 -47.9Z M49.5 -50.0 L50.7 -50.2 L52.2 -49.5 L52.3 -47.9 L50.7 -47.4 L49.8 -48.5Z"/>
<path id="lakes" d="M85.0 -55.4 L86.4 -55.8 L87.1 -57.8 L86.9 -59.6 L86.3 -59.5 L86.6 -57.3 L85.7 -56.3Z M-77.7 -50.4 L-74.6 -51.6 L-71.9 -52.1 L-71.5 -50.6 L-73.2 -50.0 L-75.2 -50.4Z M-76.3 -45.3 L-75.0 -45.3 L-72.6 -49.0 L-71.9 -49.5 L-73.5 -49.3 L-75.5 -47.4Z M-71.8 -49.4 L-68.8 -49.5 L-68.5 -48.1 L-70.5 -46.5 L-71.1 -46.9 L-71.5 -47.9 L-71.1 -48.8Z M-72.6 -45.0 L-69.3 -45.8 L-68.2 -46.2 L-70.5 -44.9Z M-68.8 -46.6 L-66.2 -47.3 L-65.6 -47.0 L-66.9 -46.6Z M-79.8 -57.3 L-78.4 -57.6 L-79.1 -54.8 L-79.9 -54.2 L-79.9 -55.8Z M-89.5 -69.7 L-87.6 -70.1 L-85.7 -70.6 L-84.6 -70.0 L-87.2 -68.7 L-88.8 -69.0Z M-88.2 -64.9 L-84.9 -66.1 L-83.2 -66.4 L-81.5 -66.6 L-83.6 -65.4 L-86.3 -64.9Z M30.3 -0.3 L32.4 -0.3 L32.4 2.2 L31.2 3.0 L30.3 1.6Z M27.9 3.7 L28.4 4.9 L28.8 7.0 L29.3 9.2 L28.7 9.2 L27.8 5.9Z M32.3 10.4 L32.9 12.4 L33.2 15.4 L32.7 15.1 L32.4 12.4Z M-85.9 -62.6 L-82.7 -63.3 L-81.2 -63.2 L-83.8 -62.8Z M-79.7 -61.9 L-78.8 -61.9 L-80.0 -60.4 L-80.5 -60.6Z M62.4 -50.1 L64.2 -50.4 L66.9 -50.0 L66.6 -49.6 L63.7 -49.5 L62.8 -49.2Z M12.8 -14.7 L13.8 -14.7 L13.8 -13.8 L12.9 -13.8Z M23.1 -63.9 L23.7 -65.1 L24.7 -64.9 L24.7 -64.1Z M26.0 -64.9 L26.4 -66.1 L27.2 -65.4 L26.8 -64.8Z M-66.0 16.6 L-65.2 16.7 L-64.8 17.7 L-65.6 17.5Z M34.1 -4.9 L34.6 -4.7 L34.9 -2.8 L34.4 -2.9Z M29.0 -1.1 L29.9 -2.4 L29.7 -2.5 L28.8 -1.3Z"/>
<path id="fillland" d="M-120.9 -69.3 L-115.9 -71.8 L-112.9 -72.5 L-110.2 -73.6 L-107.9 -74.1 L-105.5 -74.5 L-104.3 -74.3 L-103.1 -74.1 L-102.0 -73.9 L-101.0 -73.7 L-99.9 -73.4 L-98.5 -73.2 L-97.0 -73.0 L-95.8 -72.9 L-94.5 -72.8 L-93.2 -72.7 L-91.1 -73.1 L-88.9 -73.4 L-87.3 -73.4 L-85.6 -73.4 L-84.3 -73.3 L-83.1 -73.2 L-82.1 -72.8 L-81.1 -72.4 L-80.1 -72.0 L-78.7 -71.7 L-77.3 -71.4 L-75.4 -71.4 L-73.6 -71.5 L-71.8 -71.5 L-70.1 -71.5 L-68.6 -71.6 L-67.1 -71.7 L-63.0 -75.0 L-63.4 -72.9 L-62.6 -72.2 L-61.7 -71.5 L-58.4 -73.2 L-56.5 -72.9 L-56.8 -71.5 L-58.4 -70.1 L-59.9 -70.1 L-61.4 -70.0 L-63.3 -68.3 L-65.8 -67.8 L-69.4 -65.8 L-71.9 -63.9 L-72.4 -62.6 L-72.4 -60.9 L-69.7 -60.7 L-68.6 -59.9 L-67.5 -59.2 L-65.4 -59.0 L-66.5 -56.8 L-66.0 -55.1 L-64.6 -55.3 L-63.7 -56.8 L-63.4 -58.6 L-60.8 -59.9 L-59.6 -61.4 L-60.3 -62.9 L-58.7 -64.4 L-58.1 -66.1 L-56.6 -66.1 L-55.1 -66.1 L-53.9 -65.5 L-52.8 -64.9 L-53.4 -62.9 L-52.6 -62.2 L-50.1 -63.4 L-48.9 -64.3 L-48.3 -61.4 L-47.5 -59.4 L-46.1 -57.8 L-45.5 -56.3 L-46.6 -55.3 L-49.6 -53.9 L-51.6 -53.9 L-53.7 -53.9 L-55.7 -53.0 L-58.9 -51.1 L-56.7 -52.5 L-53.7 -52.7 L-54.1 -51.6 L-54.8 -50.6 L-54.3 -49.5 L-51.9 -49.2 L-50.8 -50.0 L-52.0 -48.8 L-54.4 -48.0 L-56.9 -46.9 L-56.5 -47.9 L-54.9 -49.0 L-57.2 -48.5 L-59.3 -47.4 L-60.9 -46.3 L-61.4 -45.8 L-60.9 -44.9 L-62.8 -44.4 L-64.8 -43.8 L-65.2 -42.6 L-66.8 -41.5 L-67.7 -39.9 L-67.9 -38.3 L-69.3 -37.2 L-71.5 -35.9 L-73.7 -34.3 L-74.4 -32.4 L-74.0 -29.7 L-74.3 -27.5 L-75.1 -27.2 L-76.0 -29.7 L-76.0 -31.3 L-76.9 -32.4 L-78.6 -32.7 L-80.9 -32.7 L-82.1 -31.5 L-83.4 -31.6 L-86.1 -31.8 L-89.3 -30.2 L-90.3 -27.5 L-91.1 -24.3 L-90.4 -21.0 L-88.7 -19.6 L-86.3 -20.1 L-84.7 -21.6 L-84.4 -22.6 L-81.2 -23.2 L-82.0 -20.5 L-82.9 -18.9 L-83.7 -17.1 L-81.1 -17.0 L-78.6 -16.2 L-79.2 -13.5 L-79.2 -11.8 L-78.1 -9.9 L-75.9 -9.9 L-75.0 -10.2 L-73.6 -9.3 L-74.0 -7.9 L-75.5 -9.5 L-76.3 -7.9 L-78.7 -8.8 L-80.6 -10.8 L-81.3 -12.1 L-82.8 -14.0 L-85.0 -14.9 L-87.1 -15.9 L-89.0 -17.5 L-91.4 -17.0 L-94.1 -18.1 L-96.7 -19.6 L-98.8 -21.6 L-98.4 -23.7 L-99.8 -26.4 L-101.2 -28.6 L-102.8 -31.3 L-103.0 -33.6 L-104.4 -34.2 L-104.8 -32.4 L-103.7 -29.7 L-102.6 -26.4 L-102.0 -24.8 L-102.6 -25.0 L-104.1 -27.0 L-105.4 -29.4 L-105.9 -32.4 L-106.1 -35.0 L-106.9 -36.7 L-108.5 -37.3 L-108.8 -39.7 L-108.8 -41.5 L-109.0 -43.4 L-107.4 -46.3 L-105.1 -49.7 L-104.3 -51.9 L-102.4 -52.7 L-103.2 -54.0 L-104.3 -55.3 L-103.5 -57.3 L-104.1 -58.6 L-103.7 -60.4 L-103.7 -62.1 L-105.5 -62.2 L-106.0 -63.7 L-107.4 -63.8 L-108.8 -63.9 L-110.3 -64.7 L-113.0 -63.9 L-116.1 -63.2 L-113.8 -64.9 L-117.4 -63.4 L-120.2 -61.9 L-123.4 -60.7 L-126.6 -59.6 L-129.9 -58.7 L-131.6 -58.5 L-128.1 -59.7 L-124.4 -60.9 L-121.3 -62.6 L-123.1 -62.7 L-123.9 -63.4 L-124.6 -64.4 L-123.6 -65.8 L-121.0 -67.0 L-118.4 -67.3 L-117.2 -68.3 L-119.4 -68.3 L-120.3 -68.9Z M-44.5 -80.3 L-42.4 -81.0 L-40.3 -81.7 L-38.7 -82.1 L-37.1 -82.6 L-35.6 -83.0 L-34.4 -83.0 L-33.2 -83.1 L-32.0 -83.1 L-30.9 -83.2 L-29.7 -83.2 L-28.5 -83.3 L-27.2 -83.4 L-25.9 -83.5 L-24.6 -83.6 L-23.3 -83.7 L-22.1 -83.8 L-20.8 -83.9 L-19.6 -84.0 L-18.5 -84.0 L-17.4 -83.9 L-16.3 -83.9 L-15.2 -83.8 L-14.1 -83.7 L-12.9 -83.4 L-11.6 -83.1 L-10.4 -82.8 L-9.2 -82.8 L-8.1 -82.8 L-6.9 -82.8 L-8.2 -82.3 L-9.4 -81.8 L-10.7 -81.3 L-11.8 -79.4 L-12.8 -77.7 L-12.8 -76.4 L-14.7 -75.1 L-15.0 -73.6 L-16.6 -72.8 L-18.1 -72.0 L-19.5 -71.8 L-21.0 -71.7 L-22.4 -71.5 L-25.0 -70.0 L-27.3 -69.3 L-29.5 -68.3 L-31.2 -66.3 L-32.7 -64.1 L-33.9 -63.8 L-36.2 -64.8 L-37.0 -66.8 L-37.6 -68.7 L-37.9 -70.6 L-35.2 -72.7 L-37.1 -73.8 L-36.5 -75.6 L-36.8 -77.3 L-37.9 -78.6 L-39.2 -78.6 L-40.4 -78.6 L-41.7 -78.6 L-42.8 -78.8 L-43.9 -79.0 L-44.2 -80.0Z M-73.6 -9.3 L-72.1 -10.2 L-71.6 -11.5 L-70.6 -12.0 L-68.2 -13.2 L-67.8 -11.9 L-66.3 -12.9 L-64.9 -11.6 L-62.6 -11.4 L-60.7 -11.3 L-58.8 -11.5 L-57.9 -10.6 L-57.0 -9.2 L-55.1 -7.5 L-54.2 -6.5 L-51.4 -6.3 L-49.5 -5.2 L-48.6 -4.3 L-47.6 -1.9 L-47.7 0.0 L-45.7 1.1 L-42.9 1.6 L-41.9 2.9 L-39.5 3.1 L-37.1 3.8 L-35.2 5.2 L-33.5 5.9 L-33.1 8.1 L-33.5 10.2 L-35.1 12.4 L-36.4 14.0 L-36.8 16.7 L-36.8 19.2 L-37.4 21.6 L-38.2 23.7 L-40.0 24.8 L-41.8 25.7 L-43.6 26.6 L-44.9 28.0 L-44.8 30.5 L-46.1 33.4 L-47.4 34.8 L-48.3 36.7 L-49.4 37.6 L-51.3 37.3 L-52.7 36.7 L-51.1 39.0 L-51.1 41.2 L-52.9 41.6 L-54.7 42.0 L-54.5 44.0 L-56.8 44.2 L-55.1 46.0 L-55.8 48.2 L-57.2 49.7 L-55.3 51.1 L-56.0 53.2 L-56.7 54.8 L-55.6 56.2 L-55.3 57.1 L-52.0 58.6 L-53.2 59.2 L-55.6 59.1 L-57.8 57.8 L-59.9 56.6 L-62.1 54.2 L-63.3 51.6 L-63.2 49.5 L-63.3 46.9 L-64.5 44.7 L-64.9 42.0 L-65.2 40.1 L-65.1 37.7 L-65.0 34.5 L-65.6 31.3 L-65.3 27.5 L-65.5 23.7 L-66.0 20.0 L-67.7 18.5 L-70.7 16.7 L-72.1 14.9 L-73.4 12.4 L-75.0 9.2 L-76.1 7.0 L-77.3 6.3 L-77.3 4.6 L-76.2 3.6 L-77.0 2.4 L-77.0 1.1 L-76.2 -0.5 L-75.3 -1.6 L-74.3 -2.7 L-73.6 -4.3 L-73.7 -6.5 L-74.0 -7.9Z M-5.2 -38.6 L-1.8 -38.0 L0.9 -39.4 L2.7 -39.5 L4.5 -39.7 L6.2 -39.9 L8.0 -40.1 L9.3 -40.1 L9.8 -39.8 L9.4 -38.3 L9.2 -36.9 L10.4 -35.8 L11.8 -35.5 L13.9 -34.8 L16.0 -33.3 L17.8 -32.8 L18.2 -34.0 L19.0 -35.4 L20.9 -35.2 L22.7 -34.2 L24.6 -33.8 L26.5 -33.3 L28.2 -34.0 L29.4 -33.6 L29.7 -32.4 L30.9 -30.0 L33.0 -25.9 L34.5 -23.2 L35.0 -20.5 L36.2 -19.4 L37.2 -16.7 L38.9 -15.6 L40.7 -13.7 L41.0 -12.4 L42.2 -11.3 L44.5 -12.1 L46.4 -12.2 L48.5 -12.7 L48.6 -11.3 L47.3 -8.6 L45.7 -5.4 L43.8 -2.7 L41.9 -1.1 L40.0 1.1 L38.6 2.7 L37.6 4.9 L36.9 7.0 L37.5 8.6 L37.8 10.8 L38.4 11.5 L38.5 15.1 L37.7 17.3 L34.8 19.2 L32.8 21.4 L33.0 23.7 L33.0 25.9 L30.6 27.5 L30.3 29.1 L29.4 31.3 L27.8 33.2 L25.8 35.3 L23.5 36.5 L20.7 36.8 L18.0 37.5 L16.6 36.9 L16.5 34.5 L15.6 31.8 L14.3 29.1 L13.9 27.0 L13.5 24.8 L12.6 22.1 L11.1 18.9 L11.3 16.2 L13.0 12.9 L12.6 10.2 L11.7 6.5 L11.2 4.9 L9.1 2.4 L8.6 0.5 L9.1 -1.6 L9.2 -3.8 L8.1 -5.0 L6.7 -4.7 L5.2 -5.9 L4.1 -6.8 L1.9 -6.8 L0.0 -6.0 L-1.9 -5.2 L-3.8 -5.6 L-7.1 -4.7 L-8.6 -5.6 L-10.7 -7.3 L-12.3 -9.2 L-12.8 -10.6 L-14.2 -11.9 L-15.8 -13.4 L-15.8 -14.9 L-16.5 -15.9 L-15.5 -17.5 L-15.3 -20.5 L-15.9 -22.6 L-14.9 -25.6 L-13.7 -27.5 L-12.0 -30.0 L-9.2 -31.8 L-8.8 -34.0 L-7.7 -35.9 L-6.1 -36.9Z M-4.9 -38.8 L-5.8 -39.9 L-8.0 -39.9 L-8.3 -41.7 L-7.7 -44.2 L-7.9 -46.4 L-6.9 -47.1 L-4.3 -46.9 L-1.7 -46.8 L-1.1 -47.9 L-1.0 -49.5 L-2.1 -50.9 L-3.9 -51.6 L-3.8 -52.2 L-1.4 -52.4 L-1.2 -53.4 L0.2 -53.2 L1.3 -54.5 L2.9 -55.2 L3.7 -56.3 L4.0 -57.1 L5.6 -57.3 L7.0 -57.6 L6.6 -58.9 L6.4 -60.9 L8.2 -61.6 L8.3 -59.9 L7.8 -58.9 L8.8 -57.8 L10.0 -58.3 L11.4 -57.7 L13.2 -58.4 L14.8 -58.6 L15.8 -58.3 L16.7 -59.1 L16.4 -60.9 L17.1 -61.5 L19.0 -61.1 L18.1 -62.4 L18.0 -63.1 L20.6 -63.4 L22.9 -63.8 L21.6 -64.4 L19.0 -64.1 L17.1 -63.9 L16.1 -64.9 L15.9 -66.8 L17.8 -68.5 L18.2 -69.2 L15.8 -69.4 L15.5 -68.3 L13.3 -66.5 L13.0 -64.9 L14.3 -63.9 L12.8 -61.9 L12.8 -60.4 L11.3 -59.4 L10.3 -59.3 L9.8 -60.2 L8.7 -62.4 L8.0 -63.2 L6.6 -62.1 L5.4 -61.9 L4.2 -62.7 L3.8 -64.9 L4.1 -66.0 L6.3 -67.3 L8.0 -68.5 L9.3 -70.0 L10.2 -71.5 L11.8 -72.5 L13.4 -73.4 L15.6 -74.1 L17.6 -74.3 L19.3 -74.3 L21.2 -73.6 L19.9 -73.2 L21.3 -73.0 L22.8 -72.8 L24.9 -72.6 L26.8 -72.0 L28.8 -71.4 L29.2 -70.1 L27.2 -69.8 L25.7 -70.1 L24.2 -70.3 L23.5 -70.1 L25.2 -68.7 L25.5 -68.1 L27.5 -67.7 L27.6 -68.5 L29.4 -68.4 L28.7 -69.5 L29.9 -70.1 L31.6 -70.1 L30.3 -72.0 L32.4 -71.7 L32.7 -70.4 L33.8 -71.3 L35.3 -71.7 L36.9 -72.2 L38.3 -72.1 L39.7 -72.1 L41.7 -72.3 L41.9 -73.2 L44.5 -72.7 L46.5 -72.3 L48.2 -71.8 L45.9 -73.4 L45.3 -74.7 L45.5 -76.0 L47.6 -75.8 L49.2 -74.3 L50.2 -72.0 L52.1 -70.6 L51.6 -72.0 L50.1 -75.1 L52.0 -75.3 L54.1 -75.1 L52.8 -76.4 L54.4 -76.6 L56.1 -76.7 L55.8 -77.7 L57.0 -78.0 L58.2 -78.3 L59.4 -78.6 L60.5 -78.7 L61.6 -78.8 L62.7 -79.0 L63.4 -79.5 L64.0 -79.9 L66.8 -79.2 L68.5 -79.1 L70.2 -79.0 L73.9 -76.9 L71.8 -76.7 L73.2 -76.6 L74.6 -76.6 L75.9 -76.5 L77.3 -76.4 L78.6 -76.5 L79.8 -76.6 L81.0 -76.6 L84.3 -75.6 L87.6 -74.3 L89.4 -74.7 L90.8 -74.7 L92.2 -74.6 L93.0 -75.6 L94.4 -75.5 L95.8 -75.5 L97.2 -75.4 L99.0 -75.0 L100.9 -74.7 L103.7 -74.2 L105.1 -74.1 L106.5 -74.1 L107.9 -74.1 L110.1 -73.0 L111.9 -73.0 L113.7 -72.9 L115.1 -73.1 L116.4 -73.4 L118.5 -72.5 L119.7 -72.8 L120.8 -73.2 L122.8 -72.8 L124.9 -72.4 L130.3 -68.7 L133.0 -66.3 L131.8 -66.1 L130.6 -65.8 L130.4 -64.9 L130.1 -63.9 L128.2 -63.9 L126.3 -63.9 L126.4 -61.9 L128.2 -59.9 L129.4 -56.8 L128.9 -54.8 L126.2 -56.8 L122.7 -59.9 L121.9 -61.7 L121.2 -64.4 L121.5 -65.4 L121.8 -66.3 L120.9 -65.8 L120.0 -65.4 L119.5 -64.2 L118.9 -63.1 L116.8 -63.2 L114.7 -63.4 L112.9 -63.3 L111.1 -63.2 L110.0 -62.8 L108.8 -62.4 L109.4 -58.9 L113.8 -57.1 L116.2 -53.7 L116.8 -50.0 L116.3 -46.9 L113.9 -46.5 L112.7 -45.8 L112.4 -43.1 L115.3 -39.9 L115.8 -38.0 L113.9 -37.2 L112.7 -39.6 L112.5 -40.8 L110.9 -41.0 L110.0 -42.7 L107.7 -42.0 L106.0 -44.1 L104.9 -42.3 L104.1 -41.8 L105.9 -40.2 L109.0 -40.1 L107.5 -38.6 L108.1 -37.0 L110.7 -34.5 L111.6 -32.4 L111.8 -30.2 L110.7 -27.5 L108.8 -25.3 L106.3 -24.0 L103.7 -23.1 L102.9 -21.9 L101.8 -23.3 L99.8 -22.1 L99.1 -20.3 L101.8 -17.3 L103.4 -14.0 L103.3 -12.4 L101.5 -11.2 L99.7 -9.4 L99.4 -11.1 L97.1 -12.9 L95.4 -14.5 L94.6 -14.2 L94.2 -11.3 L95.3 -9.0 L96.8 -7.3 L98.3 -4.9 L98.6 -2.7 L99.3 -1.5 L98.5 -1.5 L96.5 -3.0 L95.4 -5.9 L93.4 -9.0 L93.6 -11.3 L92.6 -14.6 L91.9 -17.8 L90.0 -17.0 L88.8 -17.5 L88.4 -20.2 L86.3 -22.6 L85.3 -24.4 L83.1 -23.5 L81.3 -23.0 L80.8 -21.6 L79.5 -20.5 L77.4 -17.9 L75.6 -16.7 L75.8 -14.2 L75.7 -11.1 L75.0 -10.0 L74.1 -9.0 L73.6 -8.7 L72.3 -10.8 L70.8 -14.0 L69.3 -17.3 L68.3 -20.5 L67.9 -22.6 L67.4 -22.9 L66.4 -22.4 L64.3 -24.0 L65.2 -24.8 L63.2 -25.6 L62.2 -26.7 L59.3 -27.3 L57.0 -27.2 L55.1 -27.4 L53.2 -27.7 L52.1 -29.1 L49.9 -28.8 L47.4 -30.1 L45.7 -32.4 L44.6 -32.7 L44.0 -31.8 L44.8 -30.2 L46.2 -28.8 L46.8 -27.4 L47.5 -28.0 L47.9 -26.4 L49.2 -26.1 L50.6 -26.2 L52.0 -28.3 L52.5 -26.4 L54.6 -25.5 L55.7 -24.2 L54.7 -22.0 L54.1 -20.5 L52.2 -19.1 L49.3 -17.6 L46.3 -15.4 L43.0 -14.0 L41.2 -13.7 L40.4 -16.0 L40.0 -17.9 L38.4 -20.5 L36.6 -23.0 L35.8 -25.6 L34.5 -27.5 L32.5 -30.2 L32.0 -31.8 L31.6 -30.2 L30.9 -30.5 L29.8 -32.4 L29.4 -33.6 L31.2 -33.8 L31.7 -35.0 L32.2 -37.2 L32.2 -38.8 L32.3 -39.6 L30.8 -39.7 L29.1 -38.9 L27.3 -39.1 L25.9 -39.6 L24.5 -39.9 L23.4 -41.5 L23.8 -42.6 L23.0 -43.1 L22.7 -44.0 L21.0 -44.0 L20.6 -43.3 L20.0 -43.5 L20.1 -42.4 L20.6 -41.2 L21.3 -40.8 L20.4 -40.4 L20.7 -39.4 L20.0 -39.4 L19.3 -39.8 L18.9 -40.8 L18.8 -41.4 L17.8 -42.7 L17.0 -43.7 L17.0 -44.9 L16.0 -45.8 L14.7 -46.5 L13.1 -47.7 L12.4 -48.7 L11.7 -49.1 L10.6 -48.8 L10.6 -47.7 L11.7 -46.9 L12.3 -45.7 L13.9 -45.2 L13.9 -44.7 L16.1 -43.4 L16.2 -43.0 L14.9 -43.5 L14.6 -42.9 L15.1 -42.0 L14.3 -40.9 L13.9 -41.2 L14.1 -42.0 L13.7 -43.2 L12.7 -43.9 L10.9 -44.7 L9.5 -45.8 L8.9 -46.9 L7.7 -47.7 L6.5 -47.2 L5.2 -46.4 L3.9 -46.8 L2.7 -46.3 L2.8 -45.3 L1.9 -44.5 L0.7 -44.0 L-0.2 -42.6 L0.2 -41.8 L-0.6 -40.7 L-1.8 -39.7 L-3.9 -39.6Z M-124.9 -72.4 L-124.1 -71.7 L-123.3 -71.1 L-122.6 -70.4 L-121.8 -69.7 L-125.2 -68.3 L-127.0 -68.5 L-128.2 -69.2 L-130.3 -68.7Z M135.1 11.5 L135.6 15.1 L137.1 16.2 L137.0 20.0 L139.0 21.6 L140.3 24.3 L141.9 27.0 L141.3 30.2 L139.5 33.4 L136.9 36.1 L133.9 39.4 L133.2 40.4 L130.8 41.0 L128.9 42.0 L128.0 41.2 L125.3 41.3 L124.5 39.9 L125.0 38.5 L123.7 38.3 L125.0 35.6 L123.5 37.7 L122.3 37.5 L122.0 36.1 L121.3 34.5 L119.3 34.0 L116.3 34.5 L113.2 35.6 L111.4 36.7 L108.2 36.7 L106.0 37.7 L104.1 37.0 L105.1 34.5 L105.2 32.4 L105.1 29.7 L105.1 27.5 L106.0 24.3 L106.8 23.5 L109.4 22.2 L111.4 21.6 L113.9 20.8 L115.0 18.9 L116.2 18.3 L117.9 16.2 L120.0 15.1 L121.2 16.2 L122.2 16.2 L123.0 14.0 L124.0 13.2 L125.5 12.4 L127.8 13.2 L129.7 13.2 L128.6 14.6 L127.8 16.2 L129.6 17.3 L131.1 18.9 L132.6 18.3 L133.8 15.6 L134.2 13.5Z M-110.2 80.2 L-109.0 80.2 L-107.7 80.2 L-106.5 80.2 L-105.3 80.2 L-104.1 80.2 L-102.8 80.2 L-101.6 80.2 L-100.4 80.2 L-99.2 80.2 L-97.9 80.2 L-97.4 79.9 L-96.8 79.5 L-96.1 79.2 L-95.5 78.9 L-94.8 78.6 L-93.8 78.4 L-92.8 78.2 L-91.8 78.1 L-90.8 77.9 L-89.8 77.7 L-88.7 77.6 L-87.5 77.5 L-86.3 77.5 L-85.2 77.4 L-84.0 77.3 L-82.8 77.2 L-81.7 77.1 L-80.5 77.0 L-79.3 77.0 L-78.1 76.9 L-76.7 77.0 L-75.3 77.0 L-73.9 77.1 L-72.5 77.2 L-71.1 77.3 L-70.1 77.0 L-69.1 76.8 L-68.1 76.5 L-67.0 76.3 L-66.0 76.0 L-64.7 76.0 L-63.3 76.0 L-62.0 76.0 L-60.7 76.0 L-59.4 76.0 L-58.0 76.1 L-56.6 76.2 L-55.2 76.3 L-53.8 76.4 L-52.4 76.4 L-51.3 75.8 L-50.1 75.1 L-49.4 73.8 L-48.5 72.5 L-47.5 70.6 L-46.3 68.7 L-45.2 68.0 L-44.1 67.3 L-42.0 67.1 L-42.0 68.7 L-43.1 69.4 L-44.2 70.1 L-43.0 72.5 L-40.8 75.1 L-39.4 77.3 L-40.1 78.1 L-40.8 79.0 L-38.9 79.4 L-37.0 79.8 L-35.7 79.9 L-34.5 79.9 L-33.2 80.0 L-31.9 80.1 L-30.6 80.2 L-29.4 80.2 L-28.2 80.2 L-26.9 80.2 L-25.7 80.2 L-24.5 80.2 L-23.0 80.2 L-21.4 80.2 L-20.1 79.6 L-18.8 79.0 L-17.4 78.3 L-16.0 77.7 L-14.6 77.1 L-13.1 76.4 L-11.5 76.0 L-10.0 75.6 L-8.4 74.9 L-6.8 74.3 L-5.4 74.1 L-4.1 73.9 L-2.7 73.7 L-1.4 73.5 L0.0 73.4 L1.4 73.4 L2.7 73.4 L4.1 73.4 L5.5 73.4 L6.8 73.4 L8.2 73.4 L9.6 73.4 L11.0 73.4 L12.3 73.4 L13.7 73.4 L15.1 73.3 L16.5 73.2 L17.9 73.1 L19.3 73.0 L20.7 72.9 L22.5 72.7 L24.3 72.5 L26.0 72.5 L27.7 72.5 L29.7 71.9 L31.6 71.3 L33.6 70.7 L35.6 70.1 L37.5 69.9 L39.4 69.7 L40.9 70.4 L42.3 71.1 L44.0 71.2 L45.7 71.4 L47.2 71.7 L48.8 72.0 L49.6 72.9 L51.7 72.9 L54.4 72.0 L56.1 71.5 L58.1 71.1 L60.2 70.6 L62.1 70.5 L63.9 70.4 L65.8 70.3 L67.7 70.1 L69.7 69.9 L71.6 69.7 L73.2 69.9 L74.8 70.1 L76.8 69.9 L78.8 69.7 L80.4 69.9 L81.9 70.1 L83.6 70.3 L85.2 70.4 L87.1 70.3 L89.1 70.1 L91.1 69.9 L93.1 69.7 L94.9 69.7 L96.7 69.7 L98.1 70.1 L99.4 70.4 L101.1 70.5 L102.8 70.6 L103.7 71.3 L104.5 72.0 L106.0 72.2 L107.4 72.5 L108.5 72.9 L109.6 73.4 L110.6 73.8 L111.7 74.3 L113.0 74.5 L114.3 74.7 L112.1 76.0 L109.3 76.9 L106.5 77.7 L101.2 79.8 L102.2 80.2 L103.6 80.2 L104.9 80.2 L106.2 80.2 L107.5 80.2 L108.9 80.2 L110.2 80.2 L106.6 81.7 L103.1 83.1 L99.7 84.3 L96.6 85.4 L93.8 86.3 L91.3 87.0 L90.3 87.0 L89.3 87.0 L88.3 87.0 L87.2 87.0 L86.2 87.0 L85.2 87.0 L84.2 87.0 L83.2 87.0 L82.2 87.0 L81.2 87.0 L80.1 87.0 L79.1 87.0 L78.1 87.0 L77.1 87.0 L76.1 87.0 L75.1 87.0 L74.1 87.0 L73.0 87.0 L72.0 87.0 L71.0 87.0 L70.0 87.0 L69.0 87.0 L68.0 87.0 L67.0 87.0 L65.9 87.0 L64.9 87.0 L63.9 87.0 L62.9 87.0 L61.9 87.0 L60.9 87.0 L59.9 87.0 L58.8 87.0 L57.8 87.0 L56.8 87.0 L55.8 87.0 L54.8 87.0 L53.8 87.0 L52.8 87.0 L51.7 87.0 L50.7 87.0 L49.7 87.0 L48.7 87.0 L47.7 87.0 L46.7 87.0 L45.6 87.0 L44.6 87.0 L43.6 87.0 L42.6 87.0 L41.6 87.0 L40.6 87.0 L39.6 87.0 L38.5 87.0 L37.5 87.0 L36.5 87.0 L35.5 87.0 L34.5 87.0 L33.5 87.0 L32.5 87.0 L31.4 87.0 L30.4 87.0 L29.4 87.0 L28.4 87.0 L27.4 87.0 L26.4 87.0 L25.4 87.0 L24.3 87.0 L23.3 87.0 L22.3 87.0 L21.3 87.0 L20.3 87.0 L19.3 87.0 L18.3 87.0 L17.2 87.0 L16.2 87.0 L15.2 87.0 L14.2 87.0 L13.2 87.0 L12.2 87.0 L11.2 87.0 L10.1 87.0 L9.1 87.0 L8.1 87.0 L7.1 87.0 L6.1 87.0 L5.1 87.0 L4.1 87.0 L3.0 87.0 L2.0 87.0 L1.0 87.0 L0.0 87.0 L-1.0 87.0 L-2.0 87.0 L-3.0 87.0 L-4.1 87.0 L-5.1 87.0 L-6.1 87.0 L-7.1 87.0 L-8.1 87.0 L-9.1 87.0 L-10.1 87.0 L-11.2 87.0 L-12.2 87.0 L-13.2 87.0 L-14.2 87.0 L-15.2 87.0 L-16.2 87.0 L-17.2 87.0 L-18.3 87.0 L-19.3 87.0 L-20.3 87.0 L-21.3 87.0 L-22.3 87.0 L-23.3 87.0 L-24.3 87.0 L-25.4 87.0 L-26.4 87.0 L-27.4 87.0 L-28.4 87.0 L-29.4 87.0 L-30.4 87.0 L-31.4 87.0 L-32.5 87.0 L-33.5 87.0 L-34.5 87.0 L-35.5 87.0 L-36.5 87.0 L-37.5 87.0 L-38.5 87.0 L-39.6 87.0 L-40.6 87.0 L-41.6 87.0 L-42.6 87.0 L-43.6 87.0 L-44.6 87.0 L-45.6 87.0 L-46.7 87.0 L-47.7 87.0 L-48.7 87.0 L-49.7 87.0 L-50.7 87.0 L-51.7 87.0 L-52.8 87.0 L-53.8 87.0 L-54.8 87.0 L-55.8 87.0 L-56.8 87.0 L-57.8 87.0 L-58.8 87.0 L-59.9 87.0 L-60.9 87.0 L-61.9 87.0 L-62.9 87.0 L-63.9 87.0 L-64.9 87.0 L-65.9 87.0 L-67.0 87.0 L-68.0 87.0 L-69.0 87.0 L-70.0 87.0 L-71.0 87.0 L-72.0 87.0 L-73.0 87.0 L-74.1 87.0 L-75.1 87.0 L-76.1 87.0 L-77.1 87.0 L-78.1 87.0 L-79.1 87.0 L-80.1 87.0 L-81.2 87.0 L-82.2 87.0 L-83.2 87.0 L-84.2 87.0 L-85.2 87.0 L-86.2 87.0 L-87.2 87.0 L-88.3 87.0 L-89.3 87.0 L-90.3 87.0 L-91.3 87.0 L-93.8 86.3 L-96.6 85.4 L-99.7 84.3 L-103.1 83.1 L-106.6 81.7Z M-52.3 -76.6 L-51.3 -76.2 L-50.3 -75.8 L-49.1 -75.2 L-47.9 -74.5 L-46.6 -73.4 L-46.6 -71.5 L-45.3 -71.0 L-44.0 -70.4 L-46.0 -68.7 L-48.0 -66.8 L-50.5 -66.3 L-52.2 -67.3 L-54.2 -68.3 L-56.8 -68.3 L-54.4 -69.7 L-51.4 -71.1 L-51.6 -72.0 L-53.0 -72.9 L-54.1 -73.4 L-55.5 -73.4 L-56.8 -73.4 L-58.7 -73.6 L-60.2 -74.3 L-59.4 -75.6 L-56.1 -76.7 L-54.2 -76.6Z M-78.7 -74.7 L-76.7 -75.3 L-74.7 -75.8 L-72.9 -76.0 L-71.1 -76.2 L-69.5 -75.7 L-69.0 -74.3 L-70.6 -72.9 L-73.6 -72.3 L-75.1 -72.2 L-76.5 -72.2 L-79.0 -72.1 L-80.3 -72.9 L-80.0 -73.8Z M-83.9 -75.1 L-80.3 -76.7 L-78.7 -76.9 L-77.2 -77.0 L-76.0 -76.4 L-78.9 -75.1 L-81.6 -74.5 L-83.4 -74.7Z M-56.6 -78.8 L-54.5 -79.3 L-52.5 -79.8 L-51.2 -79.6 L-50.0 -79.4 L-48.7 -79.2 L-46.1 -80.6 L-44.6 -81.0 L-43.0 -81.3 L-41.5 -81.7 L-40.0 -82.0 L-38.6 -82.3 L-36.9 -82.9 L-35.2 -83.4 L-36.3 -83.5 L-37.3 -83.6 L-38.4 -83.7 L-39.4 -83.7 L-40.6 -83.7 L-41.7 -83.7 L-42.8 -83.7 L-43.9 -83.7 L-45.1 -83.7 L-46.3 -83.6 L-47.6 -83.5 L-48.9 -83.4 L-50.1 -83.3 L-51.8 -82.9 L-53.4 -82.6 L-52.8 -82.1 L-52.1 -81.7 L-52.2 -80.6 L-54.9 -79.8Z M-61.1 -78.1 L-60.2 -77.8 L-59.3 -77.5 L-57.8 -77.4 L-56.4 -77.3 L-54.9 -77.3 L-53.2 -77.4 L-51.5 -77.5 L-51.8 -78.6 L-53.0 -78.6 L-54.2 -78.7 L-55.4 -78.8 L-56.8 -78.9 L-58.3 -79.0Z M-74.7 -78.0 L-73.6 -77.6 L-72.4 -77.3 L-70.9 -77.4 L-69.5 -77.6 L-68.0 -77.7 L-67.0 -78.6 L-68.2 -78.6 L-69.4 -78.7 L-70.6 -78.7 L-71.8 -78.8 L-73.0 -78.8Z M-58.3 -80.6 L-57.1 -80.5 L-56.0 -80.5 L-54.8 -80.4 L-51.9 -81.3 L-52.4 -82.4 L-54.3 -82.1 L-56.3 -81.7Z M-68.6 -74.7 L-66.9 -74.7 L-65.2 -74.7 L-63.5 -75.1 L-61.8 -75.6 L-59.4 -76.7 L-60.9 -76.8 L-62.5 -76.9 L-64.5 -76.4 L-66.6 -76.0Z M-64.0 -67.3 L-62.9 -66.7 L-61.8 -66.1 L-59.0 -67.6 L-59.8 -69.2 L-61.7 -69.5Z M-49.8 -51.3 L-47.3 -50.4 L-44.8 -50.2 L-44.3 -51.3 L-44.5 -53.0 L-46.1 -53.7 L-45.4 -55.3 L-47.1 -54.2 L-48.8 -52.4Z M-105.6 -54.4 L-103.6 -54.0 L-103.2 -52.1 L-104.3 -52.4 L-105.5 -53.7Z M-79.3 -23.5 L-77.3 -24.8 L-74.9 -24.9 L-72.3 -23.5 L-70.1 -22.3 L-69.4 -21.7 L-72.6 -21.5 L-72.9 -22.3 L-74.7 -23.4 L-76.4 -24.2 L-77.9 -23.8Z M-69.8 -19.8 L-68.2 -21.5 L-65.5 -21.4 L-64.2 -20.1 L-66.2 -19.6 L-67.4 -19.1 L-68.1 -19.7Z M-73.5 -19.7 L-71.7 -19.4 L-72.5 -19.2Z M-63.1 -19.8 L-61.7 -19.7 L-62.5 -19.4Z M-17.3 -69.2 L-15.7 -70.1 L-14.3 -70.0 L-12.9 -69.9 L-10.5 -69.9 L-9.8 -68.7 L-11.0 -68.0 L-13.6 -67.2 L-15.8 -67.6 L-16.4 -68.4Z M-4.4 -53.8 L-2.9 -54.1 L0.0 -54.5 L1.1 -55.0 L0.7 -55.4 L1.4 -56.5 L0.2 -56.8 L-0.2 -58.1 L-1.3 -59.2 L-1.8 -59.9 L-1.6 -61.5 L-2.7 -61.6 L-2.5 -62.5 L-3.9 -62.5 L-4.5 -61.2 L-4.3 -59.9 L-3.8 -58.8 L-2.6 -58.7 L-2.4 -57.2 L-3.6 -57.1 L-3.4 -56.1 L-4.2 -55.6 L-2.7 -55.2 L-3.7 -54.8Z M-8.2 -55.5 L-6.5 -55.5 L-5.1 -56.1 L-4.9 -57.3 L-4.5 -58.4 L-5.2 -59.1 L-6.5 -59.1 L-6.9 -58.2 L-8.0 -58.1 L-7.7 -57.0 L-8.4 -56.0Z M6.6 -81.3 L7.7 -81.4 L8.9 -81.6 L10.4 -81.7 L11.8 -81.9 L13.0 -81.9 L14.2 -81.9 L15.3 -81.8 L14.4 -81.2 L13.4 -80.6 L12.3 -80.0 L11.2 -79.4 L9.4 -79.2 L8.6 -80.0 L6.7 -80.7Z M34.8 -74.3 L35.2 -75.6 L36.1 -76.9 L36.9 -78.1 L38.3 -78.5 L39.6 -78.8 L41.2 -79.0 L42.8 -79.2 L41.9 -78.3 L40.5 -78.0 L39.1 -77.7 L37.9 -76.7 L37.3 -75.4 L39.0 -74.1 L36.7 -74.0Z M57.0 -81.1 L57.8 -81.4 L58.6 -81.7 L60.5 -81.4 L62.3 -81.2 L61.6 -80.3 L60.3 -80.5 L58.9 -80.6Z M87.5 -78.0 L88.6 -78.3 L89.7 -78.6 L91.3 -78.4 L92.9 -78.2 L94.5 -78.0 L93.6 -77.8 L92.7 -77.5 L91.1 -77.5 L89.6 -77.5Z M117.5 -36.1 L119.1 -36.1 L119.4 -34.0 L118.7 -33.6 L117.6 -35.4Z M112.2 -27.2 L113.1 -26.7 L112.8 -23.7 L111.9 -24.8Z M101.9 -20.7 L103.3 -21.6 L104.0 -21.1 L103.0 -19.7Z M75.7 -10.5 L77.1 -9.2 L77.8 -7.5 L76.7 -6.5 L76.0 -7.3Z M113.1 -20.0 L114.7 -19.8 L114.9 -17.8 L114.7 -15.6 L117.0 -14.9 L117.3 -13.7 L115.8 -14.7 L114.1 -14.9 L113.4 -16.0 L113.3 -17.6Z M116.0 -7.5 L117.3 -9.3 L118.9 -10.4 L120.1 -9.2 L120.0 -7.0 L119.4 -6.1 L117.9 -7.0 L117.1 -8.1Z M115.5 -12.7 L116.9 -11.9 L118.0 -12.2 L118.8 -13.4 L118.8 -11.1 L117.6 -10.8 L116.8 -9.9 L116.2 -10.8Z M111.4 -9.2 L113.3 -11.6 L113.2 -10.8 L111.9 -9.0Z M90.7 -6.0 L92.8 -5.6 L95.2 -3.2 L98.2 -0.5 L99.6 2.2 L100.9 3.6 L100.7 6.3 L99.4 6.1 L97.4 4.3 L95.8 1.6 L94.1 -1.6 L92.4 -3.8Z M100.1 7.3 L101.5 6.5 L103.2 7.1 L105.4 6.9 L107.2 7.4 L108.8 8.4 L108.6 9.4 L105.4 9.0 L102.6 8.4Z M103.9 -1.6 L105.3 -1.9 L106.2 -3.0 L108.1 -4.6 L109.9 -5.9 L111.2 -7.5 L113.2 -5.6 L112.2 -3.8 L112.4 -1.3 L112.0 0.9 L110.6 4.1 L109.0 4.3 L107.6 3.5 L106.2 3.5 L104.8 1.6 L103.9 0.0Z M114.2 -0.9 L115.3 -1.4 L117.2 -1.1 L119.1 -1.7 L118.2 -0.4 L115.8 -0.5 L114.6 0.9 L115.8 1.0 L117.5 1.0 L116.0 2.2 L116.7 3.8 L117.1 5.4 L115.9 5.2 L115.3 3.0 L114.7 3.2 L114.6 5.9 L113.7 5.9 L113.8 3.8 L113.2 2.9 L113.9 0.5Z M124.8 0.9 L126.3 0.4 L127.7 0.9 L128.6 3.6 L130.5 1.9 L132.0 1.9 L134.3 2.8 L137.1 4.1 L138.7 5.7 L140.3 6.5 L140.5 8.1 L142.3 11.0 L142.7 11.4 L140.4 10.9 L138.7 8.8 L136.8 8.3 L135.7 9.9 L133.9 9.8 L132.5 8.7 L131.1 9.0 L132.0 7.3 L130.8 5.6 L129.0 4.7 L127.1 4.1 L126.5 3.0 L127.6 2.7 L125.9 2.4 L124.8 1.5Z M117.1 11.1 L118.7 9.7 L120.8 9.1 L120.1 10.0 L118.1 11.0Z M110.2 9.1 L113.0 9.0 L116.6 9.0 L116.6 9.5 L113.5 9.5 L110.8 9.7Z M121.5 -2.2 L122.4 -1.6 L122.0 0.0 L122.5 0.9 L121.7 0.3Z M121.9 3.2 L124.6 3.5 L123.8 3.9 L122.2 3.8Z M141.3 5.9 L143.2 5.7 L144.9 4.5 L144.6 5.7 L143.1 6.7 L141.7 6.7Z M46.7 12.9 L47.4 16.7 L46.8 18.3 L45.7 21.6 L44.9 24.0 L44.1 26.4 L42.1 27.5 L40.8 27.0 L40.4 23.7 L41.6 21.6 L41.4 18.9 L42.4 17.3 L44.3 16.2 L45.4 14.6Z M126.6 44.0 L127.9 44.3 L129.7 44.1 L127.9 46.3 L126.6 47.0 L125.8 46.6 L126.2 45.3Z M155.5 37.2 L156.1 38.8 L156.8 39.7 L157.1 40.8 L158.5 40.7 L156.5 42.4 L154.2 44.2 L152.5 44.7 L153.5 43.1 L153.2 42.4 L154.9 41.0 L155.6 39.4Z M151.3 43.7 L152.0 44.5 L148.9 46.9 L146.7 47.9 L144.8 49.5 L142.5 50.1 L141.4 49.5 L144.1 47.7 L147.3 46.3 L149.3 44.9Z M153.5 21.7 L154.7 22.6 L155.7 24.2 L154.9 23.7 L153.7 22.6Z M11.1 -41.0 L13.7 -41.2 L13.6 -39.6 L11.3 -40.5Z M-49.9 55.3 L-47.5 55.2 L-47.6 56.0 L-49.2 56.0Z M166.7 18.9 L167.9 18.9 L167.5 19.6 L166.6 19.5Z M-66.8 -76.4 L-64.4 -76.9 L-64.4 -75.6 L-66.1 -74.5 L-67.5 -75.1Z M-68.2 -72.9 L-66.0 -73.1 L-66.5 -72.1 L-68.1 -72.2Z M-65.2 -79.0 L-63.6 -79.0 L-62.0 -79.0 L-62.9 -77.7 L-64.1 -77.8 L-65.3 -77.9Z M-61.5 -78.1 L-59.7 -78.0 L-60.3 -77.5 L-61.8 -77.5Z M-77.7 -78.6 L-75.7 -79.1 L-73.7 -79.6 L-72.4 -79.2 L-75.3 -78.5 L-76.5 -78.5Z M-63.2 -81.0 L-61.7 -81.0 L-60.2 -81.0 L-59.4 -80.2 L-61.5 -79.9 L-62.5 -80.1 L-63.5 -80.3Z M-53.1 -76.4 L-51.0 -76.6 L-50.3 -75.8 L-52.5 -75.6Z M-54.4 -71.4 L-52.7 -71.4 L-53.0 -70.8 L-54.5 -70.7Z M-61.5 -66.6 L-59.2 -66.6 L-59.7 -65.8 L-61.5 -65.9Z M-66.2 -57.0 L-64.6 -57.0 L-65.1 -56.5 L-66.3 -56.6Z M-53.4 -53.6 L-51.3 -52.9 L-52.4 -52.9Z M-54.4 -50.2 L-52.5 -49.9 L-53.1 -49.5 L-54.3 -49.7Z M-120.5 -61.2 L-118.0 -61.9 L-119.3 -60.9 L-120.7 -60.7Z M-127.0 -64.2 L-125.6 -64.3 L-126.6 -63.7Z M-126.1 -67.3 L-124.4 -67.2 L-124.9 -66.8 L-126.3 -66.9Z M-106.7 -57.8 L-105.7 -57.8 L-106.5 -56.3 L-107.2 -56.6Z M37.3 6.3 L37.7 6.5 L37.5 7.0Z M100.5 1.8 L101.5 2.2 L101.6 3.2 L100.8 2.7Z M120.0 3.5 L121.1 3.6 L120.9 4.1 L120.1 4.0Z M112.9 10.1 L114.6 10.4 L114.3 11.0 L113.1 10.6Z M143.6 2.8 L145.2 3.9 L145.6 5.0 L144.9 4.3 L143.6 3.1Z M147.1 5.9 L148.3 6.9 L148.0 7.4 L147.2 6.7Z M14.1 -61.8 L14.8 -61.7 L14.5 -60.9 L14.1 -61.1Z M2.1 -42.7 L3.0 -42.9 L2.8 -42.4 L2.3 -42.4Z M20.5 -41.9 L21.7 -41.2 L21.5 -41.0 L20.4 -41.6Z"/>
<clipPath id="landclip"><use href="#fillland"/><path d="M-84.1 -74.7 L-80.8 -77.3 L-78.5 -77.9 L-76.2 -78.4 L-74.0 -79.0 L-72.5 -79.0 L-71.1 -79.1 L-69.7 -79.2 L-68.2 -79.2 L-66.8 -79.3 L-65.3 -79.4 L-63.2 -79.9 L-61.1 -80.4 L-59.0 -81.0 L-55.3 -82.4 L-53.5 -82.8 L-51.7 -83.1 L-50.0 -83.4 L-48.7 -83.5 L-47.3 -83.6 L-46.0 -83.6 L-44.7 -83.7 L-43.4 -83.8 L-42.1 -83.9 L-41.0 -83.8 L-39.8 -83.7 L-38.7 -83.6 L-37.5 -83.6 L-36.4 -83.5 L-35.2 -83.4 L-38.2 -82.1 L-39.9 -81.7 L-41.6 -81.3 L-43.4 -81.0 L-45.3 -80.2 L-47.3 -79.4 L-50.3 -78.1 L-51.1 -76.4 L-50.4 -75.7 L-49.6 -75.0 L-48.7 -74.3 L-47.8 -73.6 L-46.8 -72.9 L-46.1 -71.8 L-45.4 -70.6 L-46.8 -67.8 L-48.6 -67.2 L-50.4 -66.6 L-51.8 -67.1 L-53.3 -67.6 L-54.7 -68.1 L-55.7 -68.9 L-56.6 -69.7 L-57.5 -71.5 L-58.8 -71.7 L-60.0 -71.8 L-61.3 -72.0 L-62.8 -72.2 L-64.3 -72.3 L-65.8 -72.5 L-67.6 -72.3 L-69.3 -72.2 L-71.1 -72.0 L-72.5 -72.0 L-73.8 -72.0 L-75.2 -72.1 L-76.6 -72.1 L-77.8 -72.3 L-78.9 -72.5 L-80.1 -72.7 L-81.1 -73.2 L-82.1 -73.7 L-83.1 -74.2Z"/><path d="M118.2 -36.7 L117.8 -37.5 L119.2 -38.3 L121.8 -38.6 L123.3 -37.3 L122.4 -36.2 L120.3 -36.9Z"/><path d="M13.4 -59.9 L16.2 -59.4 L16.4 -61.4 L17.6 -63.2 L16.3 -64.4 L15.9 -66.8 L17.7 -68.7 L15.8 -69.2 L14.6 -67.8 L13.4 -66.3 L13.3 -64.4 L14.1 -63.4 L13.2 -61.9Z"/><polygon points="112.5,-19.8 117.0,-19.8 119.5,-16.3 119.5,-6.8 115.0,-6.8 113.0,-12.3"/><polygon points="112.5,-1.8 119.0,-1.8 119.0,5.7 112.5,5.7"/><polygon points="121.0,-0.3 124.0,-0.3 124.0,4.7 121.0,4.7"/><polygon points="125.0,0.7 128.5,0.7 128.5,3.7 125.0,3.7"/><polygon points="100.0,6.2 120.0,7.7 121.0,10.7 101.0,9.2"/><polygon points="129.0,2.2 141.0,2.2 143.0,7.7 143.0,11.7 131.0,11.7 129.0,8.7"/><polygon points="-87.4,0.1 -85.2,0.1 -85.2,2.2 -87.4,2.2"/><polygon points="-69.5,-13.8 -59.0,-13.8 -59.0,-11.3 -69.5,-11.3"/><polygon points="-16.7,-23.8 -14.5,-23.8 -14.5,-14.8 -16.7,-14.8"/><polygon points="-80.0,-25.3 -74.0,-26.3 -67.0,-23.3 -65.0,-20.8 -71.0,-20.8 -77.0,-23.3"/></clipPath>
<clipPath id="frameclip"><use href="#frame"/></clipPath>
<g id="cmap"><g clip-path="url(#frameclip)"><g clip-path="url(#landclip)">
<polygon points="-175.0,-100.3 175.0,-100.3 175.0,99.7 -175.0,99.7" fill="#4010F5" />
<polygon points="-175.0,-82.3 -84.0,-82.3 -83.0,-72.8 -63.0,-72.8 -57.0,-74.3 -53.0,-76.3 -7.0,-76.8 -5.0,-82.3 29.0,-82.3 31.0,-74.7 75.0,-74.7 77.0,-75.8 108.0,-75.8 109.0,-72.8 123.0,-72.8 124.0,-82.3 175.0,-82.3 175.0,99.7 -175.0,99.7" fill="#3A5EE0" />
<polygon points="-175.0,-67.8 -119.0,-67.8 -117.0,-70.8 -84.0,-70.8 -80.0,-71.3 -59.0,-71.3 -56.0,-68.3 -44.0,-68.3 -42.0,-71.8 -25.0,-71.8 -21.0,-67.3 -8.0,-67.3 -5.0,-70.3 26.0,-70.3 35.0,-69.7 125.0,-70.0 175.0,-70.8 175.0,99.7 -175.0,99.7" fill="#1898FF" />
<polygon points="-175.0,-63.2 -106.4,-63.2 -98.0,-64.7 -88.0,-66.0 -75.0,-67.4 -67.0,-66.8 -45.0,-66.8 -40.0,-65.3 -25.0,-65.3 -15.0,-62.8 5.0,-63.3 20.0,-62.3 40.0,-62.8 65.0,-63.8 90.0,-64.7 115.0,-64.8 121.0,-62.3 175.0,-62.3 175.0,99.7 -175.0,99.7" fill="#54C4F5" />
<polygon points="-175.0,-56.8 -90.7,-56.8 -80.7,-54.7 -75.0,-52.4 -67.0,-52.4 -65.0,-55.3 -47.0,-55.3 -25.0,-55.3 -10.0,-54.8 30.0,-54.3 37.0,-52.8 37.0,-52.8 39.0,-55.8 65.0,-56.3 83.0,-56.8 87.0,-58.3 115.0,-58.3 117.0,-56.3 175.0,-56.3 175.0,99.7 -175.0,99.7" fill="#CCE8F8" />
<polygon points="-175.0,-46.8 -106.0,-46.8 -102.0,-48.3 -95.0,-48.8 -88.0,-47.8 -83.0,-45.8 -77.0,-44.3 -70.0,-42.8 -64.0,-43.3 -62.0,-47.3 -45.0,-47.3 -15.0,-46.8 10.0,-46.8 15.0,-44.7 33.0,-44.7 37.0,-48.0 47.0,-48.3 70.0,-48.3 75.0,-50.3 90.0,-51.0 97.0,-49.8 105.0,-47.8 111.0,-47.3 117.0,-46.3 175.0,-46.3 175.0,99.7 -175.0,99.7" fill="#FFD628" />
<polygon points="-175.0,-40.3 -91.4,-40.3 -91.4,-31.9 -65.0,-31.9 -25.0,-34.3 -5.0,-35.3 11.0,-35.3 17.0,-38.3 25.0,-40.3 39.0,-38.3 50.0,-37.3 58.6,-38.9 71.4,-40.3 82.9,-41.0 86.5,-36.8 89.5,-31.8 92.5,-28.3 96.0,-26.8 101.0,-25.5 107.0,-24.3 113.0,-24.8 116.0,-28.3 117.0,-32.8 125.0,-32.8 175.0,-32.3 175.0,99.7 -175.0,99.7" fill="#FF8C00" />
<polygon points="-175.0,-17.3 -99.0,-17.3 -95.0,-18.8 -89.0,-18.3 -85.0,-13.3 -45.0,-13.3 -25.0,-15.3 -17.0,-16.3 -15.0,-17.3 -3.5,-17.3 -3.0,-19.3 0.0,-21.3 2.0,-21.3 2.5,-19.3 5.0,-19.8 8.0,-20.3 9.5,-17.3 13.0,-16.3 19.0,-16.3 22.0,-16.8 25.0,-19.3 29.0,-21.3 31.0,-24.3 33.0,-25.8 37.0,-25.7 50.0,-26.0 57.0,-25.3 59.0,-23.3 61.5,-23.3 63.0,19.7 87.0,19.7 87.0,5.8 115.0,5.8 115.0,1.7 125.0,1.7 125.0,-0.3 148.0,-0.3 148.0,15.7 175.0,15.7 175.0,99.7 -175.0,99.7" fill="#FF0000" />
<polygon points="-80.0,-15.3 -60.7,-15.3 -60.0,-7.4 -57.9,-1.8 -55.0,5.3 -52.1,9.7 -55.0,12.7 -55.5,19.0 -60.0,18.7 -65.0,16.2 -69.0,13.7 -72.0,11.2 -74.5,8.2 -76.5,4.7 -78.0,0.7 -80.0,-6.3" fill="#FF8C00" />
<polygon points="-54.3,20.3 -50.0,23.2 -45.0,24.7 -40.7,25.3 -37.1,17.6 -35.0,17.7 -36.5,24.0 -43.6,29.7 -46.4,32.6 -48.6,29.7 -52.1,26.8" fill="#FF8C00" />
<polygon points="-65.7,21.8 -61.4,22.6 -61.4,26.1 -63.6,31.1 -65.7,32.6" fill="#FF8C00" />
<polygon points="-65.0,22.7 -61.5,23.7 -61.5,28.7 -65.0,28.7" fill="#FF8C00" />
<polygon points="-66.0,43.7 -63.0,43.7 -60.5,50.7 -57.0,54.7 -52.0,59.2 -58.0,59.2 -63.0,53.7" fill="#FF8C00" />
<polygon points="-58.0,56.7 -54.0,56.7 -53.0,59.2 -58.0,59.2" fill="#FFD628" />
<polygon points="-91.0,-20.3 -77.0,-20.3 -75.0,-11.3 -82.0,-11.3 -87.0,-15.3" fill="#FF8C00" />
<polygon points="-94.0,-19.8 -91.5,-19.8 -91.5,-16.8 -94.0,-16.8" fill="#FF0000" />
<polygon points="-20.0,-15.3 -12.0,-15.3 -10.0,-13.8 -8.5,-10.3 -7.0,-9.3 -5.0,-8.8 0.0,-9.3 8.0,-9.3 9.5,-11.3 12.0,-10.8 15.0,-9.8 20.0,-8.8 23.0,-7.8 24.0,-5.8 29.0,-5.3 31.0,-1.3 30.0,3.7 28.0,4.2 27.0,6.7 25.0,9.2 22.0,9.7 19.0,12.7 16.0,12.7 14.0,11.2 12.5,11.7 11.5,11.7 10.0,7.7 8.0,-0.3 5.0,-4.3 -20.0,-4.3" fill="#FF8C00" />
<polygon points="10.0,-1.3 13.5,-1.3 13.5,4.7 12.0,4.7" fill="#FFD628" />
<polygon points="29.3,-10.8 33.0,-10.8 34.0,-9.3 34.0,-6.3 32.5,-5.3 29.3,-5.8" fill="#FF8C00" />
<polygon points="42.4,-23.0 53.6,-23.0 53.6,-20.3 49.0,-17.9 42.4,-17.9" fill="#FF8C00" />
<polygon points="41.5,-34.3 45.0,-34.8 51.0,-31.3 56.0,-27.3 57.0,-23.8 53.0,-23.3 48.0,-26.3 42.0,-30.8" fill="#FF0000" />
<polygon points="61.0,-24.5 68.0,-23.8 68.0,-21.8 61.0,-22.3" fill="#FF0000" />
<polygon points="-87.4,0.1 -85.2,0.1 -85.2,2.2 -87.4,2.2" fill="#FF0000" />
<polygon points="-13.5,-19.8 -11.0,-19.8 -11.0,-17.3 -13.5,-17.3" fill="#FF0000" />
<polygon points="16.0,-23.3 18.0,-23.3 18.0,-21.3 16.0,-21.3" fill="#FF0000" />
<polygon points="13.5,-19.8 15.5,-19.8 15.5,-17.8 13.5,-17.8" fill="#FF0000" />
<polygon points="-23.0,-17.3 -15.0,-17.3 -15.0,-14.3 -23.0,-14.3" fill="#FF0000" />
<polygon points="99.0,5.7 121.0,5.7 121.0,11.7 99.0,11.7" fill="#FF0000" />
<polygon points="112.5,-1.8 119.0,-1.8 119.0,5.8 112.5,5.8" fill="#FF0000" />
<polygon points="121.0,-0.3 128.5,-0.3 128.5,4.7 121.0,4.7" fill="#FF0000" />
<polygon points="-69.5,-13.8 -59.0,-13.8 -59.0,-11.0 -69.5,-11.0" fill="#FF0000" />
<polygon points="-17.5,-24.3 -15.0,-24.3 -15.0,-14.3 -17.5,-14.3" fill="#FF0000" />
<polygon points="-75.2,-8.3 -73.5,-8.3 -73.5,-4.3 -74.7,-4.3" fill="#FFD628" />
<polygon points="125.0,0.7 145.0,0.7 145.0,13.7 125.0,13.7" fill="#FF8C00" />
<polygon points="130.0,7.8 143.0,7.8 143.0,11.7 130.0,11.7" fill="#FF0000" />
<polygon points="129.0,3.7 131.0,3.7 131.0,8.7 129.0,8.7" fill="#FF0000" />
<polygon points="124.0,41.7 131.0,41.7 131.0,47.7 124.0,47.7" fill="#FF8C00" />
<polygon points="139.0,40.7 154.3,40.7 154.3,51.7 139.0,51.7" fill="#FF8C00" />
<polygon points="-51.0,52.7 -46.0,52.7 -46.0,57.7 -51.0,57.7" fill="#FF8C00" />
<ellipse cx="98.2" cy="-33.5" rx="4.8" ry="4" fill="#CCE8F8"/>
<polygon points="-175.0,59.7 175.0,59.7 175.0,99.7 -175.0,99.7" fill="#FF8C00" />
<polygon points="-110.2,81.9 -109.0,81.9 -107.7,81.9 -106.5,81.9 -105.3,81.9 -104.1,81.9 -102.8,81.9 -101.6,81.9 -100.4,81.9 -99.2,81.9 -97.9,81.9 -97.4,81.6 -96.8,81.2 -96.1,80.9 -95.5,80.6 -94.8,80.3 -93.8,80.1 -92.8,79.9 -91.8,79.8 -90.8,79.6 -89.8,79.4 -88.7,79.3 -87.5,79.2 -86.3,79.2 -85.2,79.1 -84.0,79.0 -82.8,78.9 -81.7,78.8 -80.5,78.7 -79.3,78.7 -78.1,78.6 -76.7,78.7 -75.3,78.7 -73.9,78.8 -72.5,78.9 -71.1,79.0 -70.1,78.7 -69.1,78.5 -68.1,78.2 -67.0,78.0 -66.0,77.7 -64.7,77.7 -63.3,77.7 -62.0,77.7 -60.7,77.7 -59.4,77.7 -58.0,77.8 -56.6,77.9 -55.2,78.0 -53.8,78.1 -52.4,78.1 -51.3,77.5 -50.1,76.8 -49.4,75.5 -48.5,74.2 -47.5,72.3 -46.3,70.4 -45.2,69.7 -44.1,69.0 -42.0,68.8 -42.0,70.4 -43.1,71.1 -44.2,71.8 -43.0,74.2 -40.8,76.8 -39.4,78.2 -40.1,79.8 -40.8,80.7 -38.9,80.3 -37.0,80.7 -35.7,80.8 -34.5,80.8 -33.2,80.9 -31.9,81.0 -30.6,81.1 -29.4,81.1 -28.2,81.1 -26.9,81.1 -25.7,81.1 -24.5,81.1 -23.0,81.1 -21.4,81.1 -20.1,80.5 -18.8,79.9 -17.4,79.2 -16.0,78.6 -14.6,78.0 -13.1,77.3 -11.5,76.9 -10.0,76.5 -8.4,75.8 -6.8,75.2 -5.4,75.0 -4.1,74.8 -2.7,74.6 -1.4,74.4 0.0,74.3 1.4,74.3 2.7,74.3 4.1,74.3 5.5,74.3 6.8,74.3 8.2,74.3 9.6,74.3 11.0,74.3 12.3,74.3 13.7,74.3 15.1,74.2 16.5,74.1 17.9,74.0 19.3,73.9 20.7,73.8 22.5,73.6 24.3,73.4 26.0,73.4 27.7,73.4 29.7,72.8 31.6,72.2 33.6,71.6 35.6,71.0 37.5,70.8 39.4,70.6 40.9,71.3 42.3,72.0 44.0,72.1 45.7,72.3 47.2,72.6 48.8,72.9 49.6,73.8 51.7,73.8 54.4,72.9 56.1,72.4 58.1,72.0 60.2,71.5 62.1,71.4 63.9,71.3 65.8,71.2 67.7,71.0 69.7,70.8 71.6,70.6 73.2,70.8 74.8,71.0 76.8,70.8 78.8,70.6 80.4,70.8 81.9,71.0 83.6,71.2 85.2,71.3 87.1,71.2 89.1,71.0 91.1,70.8 93.1,70.6 94.9,70.6 96.7,70.6 98.1,71.0 99.4,71.3 101.1,71.4 102.8,71.5 103.7,72.2 104.5,72.9 106.0,73.1 107.4,73.4 108.5,73.8 109.6,74.3 110.6,74.7 111.7,75.2 113.0,75.4 114.3,75.6 112.1,76.9 109.3,77.8 106.5,78.6 101.2,80.7 102.2,81.1 103.6,81.1 104.9,81.1 106.2,81.1 107.5,81.1 108.9,81.1 110.2,81.1 175.0,99.7 -175.0,99.7" fill="#FF0000" />
<polygon points="-115.0,85.7 -101.3,83.2 -80.7,82.5 -55.0,82.2 -46.4,82.5 -24.1,83.7 -17.0,82.7 -12.0,80.2 -8.0,77.2 -5.0,75.8 5.0,75.2 17.0,74.2 29.0,73.7 39.0,73.7 46.0,74.7 51.0,75.7 56.4,74.2 70.0,73.7 90.7,73.7 103.0,74.3 106.0,76.7 115.0,76.7 117.0,77.7 125.0,99.7 -115.0,99.7" fill="#D6282E" />
<polygon points="-53.0,59.7 -39.0,59.7 -39.0,76.7 -44.0,78.7 -53.0,78.7" fill="#FF8C00" />
<polygon points="-48.0,71.7 -44.0,71.7 -44.0,75.7 -48.0,75.7" fill="#FFD628" />
</g>
<use href="#water" fill="#fff"/>

<use href="#land" fill="none" stroke="#000" stroke-width="0.8" stroke-linejoin="round"/><use href="#water" fill="none" stroke="#000" stroke-width="0.75"/><use href="#lakes" fill="none" stroke="#000" stroke-width="0.8"/>
</g><use href="#frame" fill="none" stroke="#111" stroke-width="0.8"/></g>
<g id="omap"><g clip-path="url(#frameclip)"><use href="#land" fill="none" stroke="#000" stroke-width="0.68" stroke-linejoin="round"/><use href="#water" fill="none" stroke="#000" stroke-width="0.65"/><use href="#lakes" fill="none" stroke="#000" stroke-width="0.65"/></g><use href="#frame" fill="none" stroke="#111" stroke-width="0.8"/></g>
</defs>
<use href="#cmap" x="175" y="220.35"/>
<use href="#cmap" x="525" y="220.35"/>
<use href="#omap" x="175" y="497.4"/>
<use href="#omap" x="525" y="497.4"/>
<text x="350" y="82.6" font-size="19.6" text-anchor="middle" textLength="195.4" lengthAdjust="spacingAndGlyphs">SON FSDSNI (W/m^2)</text>
<text x="175" y="109.9" font-size="15.7" text-anchor="middle" >Myccost_I2000Clm50BgcCrop_kparams</text>
<text x="175" y="127.4" font-size="15.7" text-anchor="middle" >(yrs 1-14)</text>
<text x="525" y="109.9" font-size="15.7" text-anchor="middle" >Myccost_I2000Clm50BgcCrop_control</text>
<text x="525" y="127.4" font-size="15.7" text-anchor="middle" >(yrs 1-14)</text>
<text x="175" y="386" font-size="15.7" text-anchor="middle" >Myccost_I2000Clm50BgcCrop_kparams</text>
<text x="175" y="403.6" font-size="15.7" text-anchor="middle" >- Myccost_I2000Clm50BgcCrop_control</text>
<text x="524.5" y="397.1" font-size="15.6" text-anchor="middle" textLength="305.5" lengthAdjust="spacingAndGlyphs">T-Test of two Case means at each grid point</text>
<text x="523.5" y="625.6" font-size="12.6" text-anchor="middle" textLength="173.1" lengthAdjust="spacingAndGlyphs">Cells are significant at 0.1 level</text>
<rect x="38.10" y="327.3" width="30.4" height="15.3" fill="#4010F5" stroke="#000" stroke-width="0.6"/>
<rect x="68.50" y="327.3" width="30.4" height="15.3" fill="#3A5EE0" stroke="#000" stroke-width="0.6"/>
<rect x="98.90" y="327.3" width="30.4" height="15.3" fill="#1898FF" stroke="#000" stroke-width="0.6"/>
<rect x="129.30" y="327.3" width="30.4" height="15.3" fill="#54C4F5" stroke="#000" stroke-width="0.6"/>
<rect x="159.70" y="327.3" width="30.4" height="15.3" fill="#CCE8F8" stroke="#000" stroke-width="0.6"/>
<rect x="190.10" y="327.3" width="30.4" height="15.3" fill="#FFD628" stroke="#000" stroke-width="0.6"/>
<rect x="220.50" y="327.3" width="30.4" height="15.3" fill="#FF8C00" stroke="#000" stroke-width="0.6"/>
<rect x="250.90" y="327.3" width="30.4" height="15.3" fill="#FF0000" stroke="#000" stroke-width="0.6"/>
<rect x="281.30" y="327.3" width="30.4" height="15.3" fill="#D6282E" stroke="#000" stroke-width="0.6"/>
<text x="38.1" y="356.6" font-size="12" text-anchor="middle" >3.01</text>
<text x="68.5" y="356.6" font-size="12" text-anchor="middle" >6</text>
<text x="98.9" y="356.6" font-size="12" text-anchor="middle" >8</text>
<text x="129.3" y="356.6" font-size="12" text-anchor="middle" >10</text>
<text x="159.7" y="356.6" font-size="12" text-anchor="middle" >12</text>
<text x="190.1" y="356.6" font-size="12" text-anchor="middle" >14</text>
<text x="220.5" y="356.6" font-size="12" text-anchor="middle" >16</text>
<text x="250.9" y="356.6" font-size="12" text-anchor="middle" >18</text>
<text x="281.3" y="356.6" font-size="12" text-anchor="middle" >20</text>
<text x="311.7" y="356.6" font-size="12" text-anchor="middle" >21.69</text>
<rect x="388.10" y="327.3" width="30.4" height="15.3" fill="#4010F5" stroke="#000" stroke-width="0.6"/>
<rect x="418.50" y="327.3" width="30.4" height="15.3" fill="#3A5EE0" stroke="#000" stroke-width="0.6"/>
<rect x="448.90" y="327.3" width="30.4" height="15.3" fill="#1898FF" stroke="#000" stroke-width="0.6"/>
<rect x="479.30" y="327.3" width="30.4" height="15.3" fill="#54C4F5" stroke="#000" stroke-width="0.6"/>
<rect x="509.70" y="327.3" width="30.4" height="15.3" fill="#CCE8F8" stroke="#000" stroke-width="0.6"/>
<rect x="540.10" y="327.3" width="30.4" height="15.3" fill="#FFD628" stroke="#000" stroke-width="0.6"/>
<rect x="570.50" y="327.3" width="30.4" height="15.3" fill="#FF8C00" stroke="#000" stroke-width="0.6"/>
<rect x="600.90" y="327.3" width="30.4" height="15.3" fill="#FF0000" stroke="#000" stroke-width="0.6"/>
<rect x="631.30" y="327.3" width="30.4" height="15.3" fill="#D6282E" stroke="#000" stroke-width="0.6"/>
<text x="388.1" y="356.6" font-size="12" text-anchor="middle" >3.01</text>
<text x="418.5" y="356.6" font-size="12" text-anchor="middle" >6</text>
<text x="448.9" y="356.6" font-size="12" text-anchor="middle" >8</text>
<text x="479.3" y="356.6" font-size="12" text-anchor="middle" >10</text>
<text x="509.7" y="356.6" font-size="12" text-anchor="middle" >12</text>
<text x="540.1" y="356.6" font-size="12" text-anchor="middle" >14</text>
<text x="570.5" y="356.6" font-size="12" text-anchor="middle" >16</text>
<text x="600.9" y="356.6" font-size="12" text-anchor="middle" >18</text>
<text x="631.3" y="356.6" font-size="12" text-anchor="middle" >20</text>
<text x="661.7" y="356.6" font-size="12" text-anchor="middle" >21.69</text>
<rect x="23.20" y="604.1" width="21.69" height="15.4" fill="#4010F5" stroke="#000" stroke-width="0.6"/>
<rect x="44.89" y="604.1" width="21.69" height="15.4" fill="#1828F0" stroke="#000" stroke-width="0.6"/>
<rect x="66.58" y="604.1" width="21.69" height="15.4" fill="#3C64E6" stroke="#000" stroke-width="0.6"/>
<rect x="88.27" y="604.1" width="21.69" height="15.4" fill="#1E90FF" stroke="#000" stroke-width="0.6"/>
<rect x="109.96" y="604.1" width="21.69" height="15.4" fill="#00B4FF" stroke="#000" stroke-width="0.6"/>
<rect x="131.65" y="604.1" width="21.69" height="15.4" fill="#5AC3F5" stroke="#000" stroke-width="0.6"/>
<rect x="153.34" y="604.1" width="21.69" height="15.4" fill="#B0DEF5" stroke="#000" stroke-width="0.6"/>
<rect x="175.03" y="604.1" width="21.69" height="15.4" fill="#FFFAA0" stroke="#000" stroke-width="0.6"/>
<rect x="196.72" y="604.1" width="21.69" height="15.4" fill="#FFDE32" stroke="#000" stroke-width="0.6"/>
<rect x="218.41" y="604.1" width="21.69" height="15.4" fill="#FFAF00" stroke="#000" stroke-width="0.6"/>
<rect x="240.10" y="604.1" width="21.69" height="15.4" fill="#FF7800" stroke="#000" stroke-width="0.6"/>
<rect x="261.79" y="604.1" width="21.69" height="15.4" fill="#FF2800" stroke="#000" stroke-width="0.6"/>
<rect x="283.48" y="604.1" width="21.69" height="15.4" fill="#E60000" stroke="#000" stroke-width="0.6"/>
<rect x="305.17" y="604.1" width="21.69" height="15.4" fill="#D6282E" stroke="#000" stroke-width="0.6"/>
<text x="44.9" y="633.4" font-size="12" text-anchor="middle" >-6</text>
<text x="66.6" y="633.4" font-size="12" text-anchor="middle" >-5</text>
<text x="88.3" y="633.4" font-size="12" text-anchor="middle" >-4</text>
<text x="110.0" y="633.4" font-size="12" text-anchor="middle" >-3</text>
<text x="131.7" y="633.4" font-size="12" text-anchor="middle" >-2</text>
<text x="153.3" y="633.4" font-size="12" text-anchor="middle" >-1</text>
<text x="175.0" y="633.4" font-size="12" text-anchor="middle" >0</text>
<text x="196.7" y="633.4" font-size="12" text-anchor="middle" >1</text>
<text x="218.4" y="633.4" font-size="12" text-anchor="middle" >2</text>
<text x="240.1" y="633.4" font-size="12" text-anchor="middle" >3</text>
<text x="261.8" y="633.4" font-size="12" text-anchor="middle" >4</text>
<text x="283.5" y="633.4" font-size="12" text-anchor="middle" >5</text>
<text x="305.2" y="633.4" font-size="12" text-anchor="middle" >6</text>
<rect x="102.4" y="491" width="145.2" height="11.9" fill="#fff" stroke="#555" stroke-width="0.8"/>
<text x="175" y="500.7" font-size="10.1" text-anchor="middle" textLength="141.8" lengthAdjust="spacingAndGlyphs">CONSTANT FIELD - VALUE IS .0</text>
<rect x="452.4" y="491" width="145.2" height="11.9" fill="#fff" stroke="#555" stroke-width="0.8"/>
<text x="525" y="500.7" font-size="10.1" text-anchor="middle" textLength="141.8" lengthAdjust="spacingAndGlyphs">CONSTANT FIELD - VALUE IS 1</text>
</svg></body></html>
